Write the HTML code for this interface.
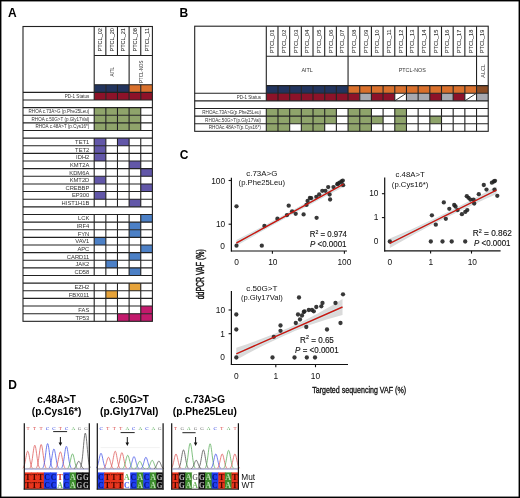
<!DOCTYPE html>
<html><head><meta charset="utf-8"><title>Figure</title>
<style>html,body{margin:0;padding:0;background:#fff;}svg{display:block;font-family:"Liberation Sans",sans-serif;will-change:transform;}</style>
</head><body>
<svg width="520" height="498" viewBox="0 0 520 498">
<rect x="0" y="0" width="520" height="498" fill="#fff"/>
<text x="8" y="17" font-family="Liberation Sans" font-size="12" fill="#000" font-weight="bold">A</text>
<text x="179.6" y="17.1" font-family="Liberation Sans" font-size="12" fill="#000" font-weight="bold">B</text>
<text x="179.8" y="158.6" font-family="Liberation Sans" font-size="12" fill="#000" font-weight="bold">C</text>
<text x="8.2" y="389.3" font-family="Liberation Sans" font-size="12" fill="#000" font-weight="bold">D</text>
<rect x="94.2" y="84.7" width="11.64" height="7.63" fill="#22345e"/>
<rect x="105.84" y="84.7" width="11.64" height="7.63" fill="#22345e"/>
<rect x="117.48" y="84.7" width="11.64" height="7.63" fill="#22345e"/>
<rect x="129.12" y="84.7" width="11.64" height="7.63" fill="#d9702c"/>
<rect x="140.76" y="84.7" width="11.64" height="7.63" fill="#d9702c"/>
<rect x="94.2" y="92.33" width="11.64" height="7.63" fill="#8d1229"/>
<rect x="105.84" y="92.33" width="11.64" height="7.63" fill="#8d1229"/>
<rect x="117.48" y="92.33" width="11.64" height="7.63" fill="#8d1229"/>
<rect x="129.12" y="92.33" width="11.64" height="7.63" fill="#8d1229"/>
<rect x="140.76" y="92.33" width="11.64" height="7.63" fill="#8d1229"/>
<rect x="94.2" y="107.6" width="11.64" height="7.63" fill="#8fa46b"/>
<rect x="105.84" y="107.6" width="11.64" height="7.63" fill="#8fa46b"/>
<rect x="117.48" y="107.6" width="11.64" height="7.63" fill="#8fa46b"/>
<rect x="129.12" y="107.6" width="11.64" height="7.63" fill="#8fa46b"/>
<rect x="94.2" y="115.23" width="11.64" height="7.63" fill="#8fa46b"/>
<rect x="105.84" y="115.23" width="11.64" height="7.63" fill="#8fa46b"/>
<rect x="117.48" y="115.23" width="11.64" height="7.63" fill="#8fa46b"/>
<rect x="129.12" y="115.23" width="11.64" height="7.63" fill="#8fa46b"/>
<rect x="94.2" y="122.87" width="11.64" height="7.63" fill="#8fa46b"/>
<rect x="105.84" y="122.87" width="11.64" height="7.63" fill="#8fa46b"/>
<rect x="117.48" y="122.87" width="11.64" height="7.63" fill="#8fa46b"/>
<rect x="129.12" y="122.87" width="11.64" height="7.63" fill="#8fa46b"/>
<rect x="94.2" y="138.13" width="11.64" height="7.63" fill="#6257a8"/>
<rect x="117.48" y="138.13" width="11.64" height="7.63" fill="#6257a8"/>
<rect x="94.2" y="145.76" width="11.64" height="7.63" fill="#6257a8"/>
<rect x="94.2" y="153.4" width="11.64" height="7.63" fill="#6257a8"/>
<rect x="129.12" y="161.03" width="11.64" height="7.63" fill="#6257a8"/>
<rect x="140.76" y="168.66" width="11.64" height="7.63" fill="#6257a8"/>
<rect x="94.2" y="176.3" width="11.64" height="7.63" fill="#6257a8"/>
<rect x="140.76" y="183.93" width="11.64" height="7.63" fill="#6257a8"/>
<rect x="94.2" y="191.56" width="11.64" height="7.63" fill="#6257a8"/>
<rect x="129.12" y="199.19" width="11.64" height="7.63" fill="#6257a8"/>
<rect x="140.76" y="214.46" width="11.64" height="7.63" fill="#4c80c6"/>
<rect x="129.12" y="222.09" width="11.64" height="7.63" fill="#4c80c6"/>
<rect x="129.12" y="229.73" width="11.64" height="7.63" fill="#4c80c6"/>
<rect x="94.2" y="237.36" width="11.64" height="7.63" fill="#4c80c6"/>
<rect x="140.76" y="244.99" width="11.64" height="7.63" fill="#4c80c6"/>
<rect x="129.12" y="252.63" width="11.64" height="7.63" fill="#4c80c6"/>
<rect x="105.84" y="260.26" width="11.64" height="7.63" fill="#4c80c6"/>
<rect x="129.12" y="267.89" width="11.64" height="7.63" fill="#4c80c6"/>
<rect x="129.12" y="283.16" width="11.64" height="7.63" fill="#e6a33a"/>
<rect x="105.84" y="290.79" width="11.64" height="7.63" fill="#e6a33a"/>
<rect x="140.76" y="306.06" width="11.64" height="7.63" fill="#c31a6d"/>
<rect x="117.48" y="313.69" width="11.64" height="7.63" fill="#c31a6d"/>
<rect x="129.12" y="313.69" width="11.64" height="7.63" fill="#c31a6d"/>
<rect x="140.76" y="313.69" width="11.64" height="7.63" fill="#c31a6d"/>
<rect x="23" y="26.5" width="129.4" height="294.82" fill="none" stroke="#222" stroke-width="1.1"/>
<line x1="94.2" y1="26.5" x2="94.2" y2="92.33" stroke="#222" stroke-width="1.1"/>
<line x1="105.84" y1="26.5" x2="105.84" y2="55.5" stroke="#222" stroke-width="1.1"/>
<line x1="117.48" y1="26.5" x2="117.48" y2="55.5" stroke="#222" stroke-width="1.1"/>
<line x1="129.12" y1="26.5" x2="129.12" y2="55.5" stroke="#222" stroke-width="1.1"/>
<line x1="140.76" y1="26.5" x2="140.76" y2="55.5" stroke="#222" stroke-width="1.1"/>
<line x1="94.2" y1="55.5" x2="152.4" y2="55.5" stroke="#222" stroke-width="1.1"/>
<line x1="129.12" y1="55.5" x2="129.12" y2="84.7" stroke="#222" stroke-width="1.1"/>
<line x1="94.2" y1="84.7" x2="152.4" y2="84.7" stroke="#222" stroke-width="1.1"/>
<line x1="105.84" y1="84.7" x2="105.84" y2="92.33" stroke="#222" stroke-width="1.1"/>
<line x1="117.48" y1="84.7" x2="117.48" y2="92.33" stroke="#222" stroke-width="1.1"/>
<line x1="129.12" y1="84.7" x2="129.12" y2="92.33" stroke="#222" stroke-width="1.1"/>
<line x1="140.76" y1="84.7" x2="140.76" y2="92.33" stroke="#222" stroke-width="1.1"/>
<line x1="23" y1="92.33" x2="152.4" y2="92.33" stroke="#222" stroke-width="1.1"/>
<line x1="105.84" y1="92.33" x2="105.84" y2="99.97" stroke="#222" stroke-width="1.1"/>
<line x1="117.48" y1="92.33" x2="117.48" y2="99.97" stroke="#222" stroke-width="1.1"/>
<line x1="129.12" y1="92.33" x2="129.12" y2="99.97" stroke="#222" stroke-width="1.1"/>
<line x1="140.76" y1="92.33" x2="140.76" y2="99.97" stroke="#222" stroke-width="1.1"/>
<line x1="94.2" y1="92.33" x2="94.2" y2="99.97" stroke="#222" stroke-width="1.1"/>
<line x1="23" y1="99.97" x2="152.4" y2="99.97" stroke="#222" stroke-width="1.1"/>
<line x1="23" y1="107.6" x2="152.4" y2="107.6" stroke="#222" stroke-width="1.1"/>
<line x1="105.84" y1="107.6" x2="105.84" y2="115.23" stroke="#222" stroke-width="1.1"/>
<line x1="117.48" y1="107.6" x2="117.48" y2="115.23" stroke="#222" stroke-width="1.1"/>
<line x1="129.12" y1="107.6" x2="129.12" y2="115.23" stroke="#222" stroke-width="1.1"/>
<line x1="140.76" y1="107.6" x2="140.76" y2="115.23" stroke="#222" stroke-width="1.1"/>
<line x1="94.2" y1="107.6" x2="94.2" y2="115.23" stroke="#222" stroke-width="1.1"/>
<line x1="23" y1="115.23" x2="152.4" y2="115.23" stroke="#222" stroke-width="1.1"/>
<line x1="105.84" y1="115.23" x2="105.84" y2="122.86" stroke="#222" stroke-width="1.1"/>
<line x1="117.48" y1="115.23" x2="117.48" y2="122.86" stroke="#222" stroke-width="1.1"/>
<line x1="129.12" y1="115.23" x2="129.12" y2="122.86" stroke="#222" stroke-width="1.1"/>
<line x1="140.76" y1="115.23" x2="140.76" y2="122.86" stroke="#222" stroke-width="1.1"/>
<line x1="94.2" y1="115.23" x2="94.2" y2="122.86" stroke="#222" stroke-width="1.1"/>
<line x1="23" y1="122.86" x2="152.4" y2="122.86" stroke="#222" stroke-width="1.1"/>
<line x1="105.84" y1="122.87" x2="105.84" y2="130.5" stroke="#222" stroke-width="1.1"/>
<line x1="117.48" y1="122.87" x2="117.48" y2="130.5" stroke="#222" stroke-width="1.1"/>
<line x1="129.12" y1="122.87" x2="129.12" y2="130.5" stroke="#222" stroke-width="1.1"/>
<line x1="140.76" y1="122.87" x2="140.76" y2="130.5" stroke="#222" stroke-width="1.1"/>
<line x1="94.2" y1="122.87" x2="94.2" y2="130.5" stroke="#222" stroke-width="1.1"/>
<line x1="23" y1="130.5" x2="152.4" y2="130.5" stroke="#222" stroke-width="1.1"/>
<line x1="23" y1="138.13" x2="152.4" y2="138.13" stroke="#222" stroke-width="1.1"/>
<line x1="105.84" y1="138.13" x2="105.84" y2="145.76" stroke="#222" stroke-width="1.1"/>
<line x1="117.48" y1="138.13" x2="117.48" y2="145.76" stroke="#222" stroke-width="1.1"/>
<line x1="129.12" y1="138.13" x2="129.12" y2="145.76" stroke="#222" stroke-width="1.1"/>
<line x1="140.76" y1="138.13" x2="140.76" y2="145.76" stroke="#222" stroke-width="1.1"/>
<line x1="94.2" y1="138.13" x2="94.2" y2="145.76" stroke="#222" stroke-width="1.1"/>
<line x1="23" y1="145.76" x2="152.4" y2="145.76" stroke="#222" stroke-width="1.1"/>
<line x1="105.84" y1="145.76" x2="105.84" y2="153.4" stroke="#222" stroke-width="1.1"/>
<line x1="117.48" y1="145.76" x2="117.48" y2="153.4" stroke="#222" stroke-width="1.1"/>
<line x1="129.12" y1="145.76" x2="129.12" y2="153.4" stroke="#222" stroke-width="1.1"/>
<line x1="140.76" y1="145.76" x2="140.76" y2="153.4" stroke="#222" stroke-width="1.1"/>
<line x1="94.2" y1="145.76" x2="94.2" y2="153.4" stroke="#222" stroke-width="1.1"/>
<line x1="23" y1="153.4" x2="152.4" y2="153.4" stroke="#222" stroke-width="1.1"/>
<line x1="105.84" y1="153.4" x2="105.84" y2="161.03" stroke="#222" stroke-width="1.1"/>
<line x1="117.48" y1="153.4" x2="117.48" y2="161.03" stroke="#222" stroke-width="1.1"/>
<line x1="129.12" y1="153.4" x2="129.12" y2="161.03" stroke="#222" stroke-width="1.1"/>
<line x1="140.76" y1="153.4" x2="140.76" y2="161.03" stroke="#222" stroke-width="1.1"/>
<line x1="94.2" y1="153.4" x2="94.2" y2="161.03" stroke="#222" stroke-width="1.1"/>
<line x1="23" y1="161.03" x2="152.4" y2="161.03" stroke="#222" stroke-width="1.1"/>
<line x1="105.84" y1="161.03" x2="105.84" y2="168.66" stroke="#222" stroke-width="1.1"/>
<line x1="117.48" y1="161.03" x2="117.48" y2="168.66" stroke="#222" stroke-width="1.1"/>
<line x1="129.12" y1="161.03" x2="129.12" y2="168.66" stroke="#222" stroke-width="1.1"/>
<line x1="140.76" y1="161.03" x2="140.76" y2="168.66" stroke="#222" stroke-width="1.1"/>
<line x1="94.2" y1="161.03" x2="94.2" y2="168.66" stroke="#222" stroke-width="1.1"/>
<line x1="23" y1="168.66" x2="152.4" y2="168.66" stroke="#222" stroke-width="1.1"/>
<line x1="105.84" y1="168.66" x2="105.84" y2="176.3" stroke="#222" stroke-width="1.1"/>
<line x1="117.48" y1="168.66" x2="117.48" y2="176.3" stroke="#222" stroke-width="1.1"/>
<line x1="129.12" y1="168.66" x2="129.12" y2="176.3" stroke="#222" stroke-width="1.1"/>
<line x1="140.76" y1="168.66" x2="140.76" y2="176.3" stroke="#222" stroke-width="1.1"/>
<line x1="94.2" y1="168.66" x2="94.2" y2="176.3" stroke="#222" stroke-width="1.1"/>
<line x1="23" y1="176.3" x2="152.4" y2="176.3" stroke="#222" stroke-width="1.1"/>
<line x1="105.84" y1="176.3" x2="105.84" y2="183.93" stroke="#222" stroke-width="1.1"/>
<line x1="117.48" y1="176.3" x2="117.48" y2="183.93" stroke="#222" stroke-width="1.1"/>
<line x1="129.12" y1="176.3" x2="129.12" y2="183.93" stroke="#222" stroke-width="1.1"/>
<line x1="140.76" y1="176.3" x2="140.76" y2="183.93" stroke="#222" stroke-width="1.1"/>
<line x1="94.2" y1="176.3" x2="94.2" y2="183.93" stroke="#222" stroke-width="1.1"/>
<line x1="23" y1="183.93" x2="152.4" y2="183.93" stroke="#222" stroke-width="1.1"/>
<line x1="105.84" y1="183.93" x2="105.84" y2="191.56" stroke="#222" stroke-width="1.1"/>
<line x1="117.48" y1="183.93" x2="117.48" y2="191.56" stroke="#222" stroke-width="1.1"/>
<line x1="129.12" y1="183.93" x2="129.12" y2="191.56" stroke="#222" stroke-width="1.1"/>
<line x1="140.76" y1="183.93" x2="140.76" y2="191.56" stroke="#222" stroke-width="1.1"/>
<line x1="94.2" y1="183.93" x2="94.2" y2="191.56" stroke="#222" stroke-width="1.1"/>
<line x1="23" y1="191.56" x2="152.4" y2="191.56" stroke="#222" stroke-width="1.1"/>
<line x1="105.84" y1="191.56" x2="105.84" y2="199.2" stroke="#222" stroke-width="1.1"/>
<line x1="117.48" y1="191.56" x2="117.48" y2="199.2" stroke="#222" stroke-width="1.1"/>
<line x1="129.12" y1="191.56" x2="129.12" y2="199.2" stroke="#222" stroke-width="1.1"/>
<line x1="140.76" y1="191.56" x2="140.76" y2="199.2" stroke="#222" stroke-width="1.1"/>
<line x1="94.2" y1="191.56" x2="94.2" y2="199.2" stroke="#222" stroke-width="1.1"/>
<line x1="23" y1="199.2" x2="152.4" y2="199.2" stroke="#222" stroke-width="1.1"/>
<line x1="105.84" y1="199.19" x2="105.84" y2="206.83" stroke="#222" stroke-width="1.1"/>
<line x1="117.48" y1="199.19" x2="117.48" y2="206.83" stroke="#222" stroke-width="1.1"/>
<line x1="129.12" y1="199.19" x2="129.12" y2="206.83" stroke="#222" stroke-width="1.1"/>
<line x1="140.76" y1="199.19" x2="140.76" y2="206.83" stroke="#222" stroke-width="1.1"/>
<line x1="94.2" y1="199.19" x2="94.2" y2="206.83" stroke="#222" stroke-width="1.1"/>
<line x1="23" y1="206.83" x2="152.4" y2="206.83" stroke="#222" stroke-width="1.1"/>
<line x1="23" y1="214.46" x2="152.4" y2="214.46" stroke="#222" stroke-width="1.1"/>
<line x1="105.84" y1="214.46" x2="105.84" y2="222.09" stroke="#222" stroke-width="1.1"/>
<line x1="117.48" y1="214.46" x2="117.48" y2="222.09" stroke="#222" stroke-width="1.1"/>
<line x1="129.12" y1="214.46" x2="129.12" y2="222.09" stroke="#222" stroke-width="1.1"/>
<line x1="140.76" y1="214.46" x2="140.76" y2="222.09" stroke="#222" stroke-width="1.1"/>
<line x1="94.2" y1="214.46" x2="94.2" y2="222.09" stroke="#222" stroke-width="1.1"/>
<line x1="23" y1="222.09" x2="152.4" y2="222.09" stroke="#222" stroke-width="1.1"/>
<line x1="105.84" y1="222.09" x2="105.84" y2="229.73" stroke="#222" stroke-width="1.1"/>
<line x1="117.48" y1="222.09" x2="117.48" y2="229.73" stroke="#222" stroke-width="1.1"/>
<line x1="129.12" y1="222.09" x2="129.12" y2="229.73" stroke="#222" stroke-width="1.1"/>
<line x1="140.76" y1="222.09" x2="140.76" y2="229.73" stroke="#222" stroke-width="1.1"/>
<line x1="94.2" y1="222.09" x2="94.2" y2="229.73" stroke="#222" stroke-width="1.1"/>
<line x1="23" y1="229.73" x2="152.4" y2="229.73" stroke="#222" stroke-width="1.1"/>
<line x1="105.84" y1="229.73" x2="105.84" y2="237.36" stroke="#222" stroke-width="1.1"/>
<line x1="117.48" y1="229.73" x2="117.48" y2="237.36" stroke="#222" stroke-width="1.1"/>
<line x1="129.12" y1="229.73" x2="129.12" y2="237.36" stroke="#222" stroke-width="1.1"/>
<line x1="140.76" y1="229.73" x2="140.76" y2="237.36" stroke="#222" stroke-width="1.1"/>
<line x1="94.2" y1="229.73" x2="94.2" y2="237.36" stroke="#222" stroke-width="1.1"/>
<line x1="23" y1="237.36" x2="152.4" y2="237.36" stroke="#222" stroke-width="1.1"/>
<line x1="105.84" y1="237.36" x2="105.84" y2="244.99" stroke="#222" stroke-width="1.1"/>
<line x1="117.48" y1="237.36" x2="117.48" y2="244.99" stroke="#222" stroke-width="1.1"/>
<line x1="129.12" y1="237.36" x2="129.12" y2="244.99" stroke="#222" stroke-width="1.1"/>
<line x1="140.76" y1="237.36" x2="140.76" y2="244.99" stroke="#222" stroke-width="1.1"/>
<line x1="94.2" y1="237.36" x2="94.2" y2="244.99" stroke="#222" stroke-width="1.1"/>
<line x1="23" y1="244.99" x2="152.4" y2="244.99" stroke="#222" stroke-width="1.1"/>
<line x1="105.84" y1="244.99" x2="105.84" y2="252.63" stroke="#222" stroke-width="1.1"/>
<line x1="117.48" y1="244.99" x2="117.48" y2="252.63" stroke="#222" stroke-width="1.1"/>
<line x1="129.12" y1="244.99" x2="129.12" y2="252.63" stroke="#222" stroke-width="1.1"/>
<line x1="140.76" y1="244.99" x2="140.76" y2="252.63" stroke="#222" stroke-width="1.1"/>
<line x1="94.2" y1="244.99" x2="94.2" y2="252.63" stroke="#222" stroke-width="1.1"/>
<line x1="23" y1="252.63" x2="152.4" y2="252.63" stroke="#222" stroke-width="1.1"/>
<line x1="105.84" y1="252.63" x2="105.84" y2="260.26" stroke="#222" stroke-width="1.1"/>
<line x1="117.48" y1="252.63" x2="117.48" y2="260.26" stroke="#222" stroke-width="1.1"/>
<line x1="129.12" y1="252.63" x2="129.12" y2="260.26" stroke="#222" stroke-width="1.1"/>
<line x1="140.76" y1="252.63" x2="140.76" y2="260.26" stroke="#222" stroke-width="1.1"/>
<line x1="94.2" y1="252.63" x2="94.2" y2="260.26" stroke="#222" stroke-width="1.1"/>
<line x1="23" y1="260.26" x2="152.4" y2="260.26" stroke="#222" stroke-width="1.1"/>
<line x1="105.84" y1="260.26" x2="105.84" y2="267.89" stroke="#222" stroke-width="1.1"/>
<line x1="117.48" y1="260.26" x2="117.48" y2="267.89" stroke="#222" stroke-width="1.1"/>
<line x1="129.12" y1="260.26" x2="129.12" y2="267.89" stroke="#222" stroke-width="1.1"/>
<line x1="140.76" y1="260.26" x2="140.76" y2="267.89" stroke="#222" stroke-width="1.1"/>
<line x1="94.2" y1="260.26" x2="94.2" y2="267.89" stroke="#222" stroke-width="1.1"/>
<line x1="23" y1="267.89" x2="152.4" y2="267.89" stroke="#222" stroke-width="1.1"/>
<line x1="105.84" y1="267.89" x2="105.84" y2="275.52" stroke="#222" stroke-width="1.1"/>
<line x1="117.48" y1="267.89" x2="117.48" y2="275.52" stroke="#222" stroke-width="1.1"/>
<line x1="129.12" y1="267.89" x2="129.12" y2="275.52" stroke="#222" stroke-width="1.1"/>
<line x1="140.76" y1="267.89" x2="140.76" y2="275.52" stroke="#222" stroke-width="1.1"/>
<line x1="94.2" y1="267.89" x2="94.2" y2="275.52" stroke="#222" stroke-width="1.1"/>
<line x1="23" y1="275.52" x2="152.4" y2="275.52" stroke="#222" stroke-width="1.1"/>
<line x1="23" y1="283.16" x2="152.4" y2="283.16" stroke="#222" stroke-width="1.1"/>
<line x1="105.84" y1="283.16" x2="105.84" y2="290.79" stroke="#222" stroke-width="1.1"/>
<line x1="117.48" y1="283.16" x2="117.48" y2="290.79" stroke="#222" stroke-width="1.1"/>
<line x1="129.12" y1="283.16" x2="129.12" y2="290.79" stroke="#222" stroke-width="1.1"/>
<line x1="140.76" y1="283.16" x2="140.76" y2="290.79" stroke="#222" stroke-width="1.1"/>
<line x1="94.2" y1="283.16" x2="94.2" y2="290.79" stroke="#222" stroke-width="1.1"/>
<line x1="23" y1="290.79" x2="152.4" y2="290.79" stroke="#222" stroke-width="1.1"/>
<line x1="105.84" y1="290.79" x2="105.84" y2="298.42" stroke="#222" stroke-width="1.1"/>
<line x1="117.48" y1="290.79" x2="117.48" y2="298.42" stroke="#222" stroke-width="1.1"/>
<line x1="129.12" y1="290.79" x2="129.12" y2="298.42" stroke="#222" stroke-width="1.1"/>
<line x1="140.76" y1="290.79" x2="140.76" y2="298.42" stroke="#222" stroke-width="1.1"/>
<line x1="94.2" y1="290.79" x2="94.2" y2="298.42" stroke="#222" stroke-width="1.1"/>
<line x1="23" y1="298.42" x2="152.4" y2="298.42" stroke="#222" stroke-width="1.1"/>
<line x1="105.84" y1="298.42" x2="105.84" y2="306.06" stroke="#222" stroke-width="1.1"/>
<line x1="117.48" y1="298.42" x2="117.48" y2="306.06" stroke="#222" stroke-width="1.1"/>
<line x1="129.12" y1="298.42" x2="129.12" y2="306.06" stroke="#222" stroke-width="1.1"/>
<line x1="140.76" y1="298.42" x2="140.76" y2="306.06" stroke="#222" stroke-width="1.1"/>
<line x1="94.2" y1="298.42" x2="94.2" y2="306.06" stroke="#222" stroke-width="1.1"/>
<line x1="23" y1="306.06" x2="152.4" y2="306.06" stroke="#222" stroke-width="1.1"/>
<line x1="105.84" y1="306.06" x2="105.84" y2="313.69" stroke="#222" stroke-width="1.1"/>
<line x1="117.48" y1="306.06" x2="117.48" y2="313.69" stroke="#222" stroke-width="1.1"/>
<line x1="129.12" y1="306.06" x2="129.12" y2="313.69" stroke="#222" stroke-width="1.1"/>
<line x1="140.76" y1="306.06" x2="140.76" y2="313.69" stroke="#222" stroke-width="1.1"/>
<line x1="94.2" y1="306.06" x2="94.2" y2="313.69" stroke="#222" stroke-width="1.1"/>
<line x1="23" y1="313.69" x2="152.4" y2="313.69" stroke="#222" stroke-width="1.1"/>
<line x1="105.84" y1="313.69" x2="105.84" y2="321.32" stroke="#222" stroke-width="1.1"/>
<line x1="117.48" y1="313.69" x2="117.48" y2="321.32" stroke="#222" stroke-width="1.1"/>
<line x1="129.12" y1="313.69" x2="129.12" y2="321.32" stroke="#222" stroke-width="1.1"/>
<line x1="140.76" y1="313.69" x2="140.76" y2="321.32" stroke="#222" stroke-width="1.1"/>
<line x1="94.2" y1="313.69" x2="94.2" y2="321.32" stroke="#222" stroke-width="1.1"/>
<text transform="translate(102.04,39.8) rotate(-90)" font-family="Liberation Sans" font-size="5.6" fill="#333" text-anchor="middle" textLength="23.5" lengthAdjust="spacingAndGlyphs" stroke="#333" stroke-width="0.08">PTCL_02</text>
<text transform="translate(113.68,39.8) rotate(-90)" font-family="Liberation Sans" font-size="5.6" fill="#333" text-anchor="middle" textLength="23.5" lengthAdjust="spacingAndGlyphs" stroke="#333" stroke-width="0.08">PTCL_20</text>
<text transform="translate(125.32,39.8) rotate(-90)" font-family="Liberation Sans" font-size="5.6" fill="#333" text-anchor="middle" textLength="23.5" lengthAdjust="spacingAndGlyphs" stroke="#333" stroke-width="0.08">PTCL_21</text>
<text transform="translate(136.96,39.8) rotate(-90)" font-family="Liberation Sans" font-size="5.6" fill="#333" text-anchor="middle" textLength="23.5" lengthAdjust="spacingAndGlyphs" stroke="#333" stroke-width="0.08">PTCL_08</text>
<text transform="translate(148.6,39.8) rotate(-90)" font-family="Liberation Sans" font-size="5.6" fill="#333" text-anchor="middle" textLength="23.5" lengthAdjust="spacingAndGlyphs" stroke="#333" stroke-width="0.08">PTCL_11</text>
<text transform="translate(113.76,71.7) rotate(-90)" font-family="Liberation Sans" font-size="4.45" fill="#333" text-anchor="middle">AITL</text>
<text transform="translate(142.86,71.7) rotate(-90)" font-family="Liberation Sans" font-size="4.45" fill="#333" text-anchor="middle">PTCL-NOS</text>
<text x="89.3" y="97.81" font-family="Liberation Sans" font-size="4.6" fill="#333" text-anchor="end" textLength="24.6" lengthAdjust="spacingAndGlyphs">PD-1 Status</text>
<text x="89.3" y="113.07" font-family="Liberation Sans" font-size="4.6" fill="#333" text-anchor="end" textLength="60.7" lengthAdjust="spacingAndGlyphs">RHOA c.73A&gt;G (p.Phe25Leu)</text>
<text x="89.3" y="120.7" font-family="Liberation Sans" font-size="4.6" fill="#333" text-anchor="end" textLength="57.7" lengthAdjust="spacingAndGlyphs">RHOA c.50G&gt;T (p.Gly17Val)</text>
<text x="89.3" y="128.34" font-family="Liberation Sans" font-size="4.6" fill="#333" text-anchor="end" textLength="53.8" lengthAdjust="spacingAndGlyphs">RHOA c.48A&gt;T (p.Cys16*)</text>
<text x="89.3" y="144.04" font-family="Liberation Sans" font-size="5.8" fill="#333" text-anchor="end">TET1</text>
<text x="89.3" y="151.67" font-family="Liberation Sans" font-size="5.8" fill="#333" text-anchor="end">TET2</text>
<text x="89.3" y="159.3" font-family="Liberation Sans" font-size="5.8" fill="#333" text-anchor="end">IDH2</text>
<text x="89.3" y="166.93" font-family="Liberation Sans" font-size="5.8" fill="#333" text-anchor="end">KMT2A</text>
<text x="89.3" y="174.57" font-family="Liberation Sans" font-size="5.8" fill="#333" text-anchor="end">KDM6A</text>
<text x="89.3" y="182.2" font-family="Liberation Sans" font-size="5.8" fill="#333" text-anchor="end">KMT2D</text>
<text x="89.3" y="189.83" font-family="Liberation Sans" font-size="5.8" fill="#333" text-anchor="end">CREBBP</text>
<text x="89.3" y="197.47" font-family="Liberation Sans" font-size="5.8" fill="#333" text-anchor="end">EP300</text>
<text x="89.3" y="205.1" font-family="Liberation Sans" font-size="5.8" fill="#333" text-anchor="end">HIST1H1B</text>
<text x="89.3" y="220.37" font-family="Liberation Sans" font-size="5.8" fill="#333" text-anchor="end">LCK</text>
<text x="89.3" y="228" font-family="Liberation Sans" font-size="5.8" fill="#333" text-anchor="end">IRF4</text>
<text x="89.3" y="235.63" font-family="Liberation Sans" font-size="5.8" fill="#333" text-anchor="end">FYN</text>
<text x="89.3" y="243.26" font-family="Liberation Sans" font-size="5.8" fill="#333" text-anchor="end">VAV1</text>
<text x="89.3" y="250.9" font-family="Liberation Sans" font-size="5.8" fill="#333" text-anchor="end">APC</text>
<text x="89.3" y="258.53" font-family="Liberation Sans" font-size="5.8" fill="#333" text-anchor="end">CARD11</text>
<text x="89.3" y="266.16" font-family="Liberation Sans" font-size="5.8" fill="#333" text-anchor="end">JAK2</text>
<text x="89.3" y="273.8" font-family="Liberation Sans" font-size="5.8" fill="#333" text-anchor="end">CD58</text>
<text x="89.3" y="289.06" font-family="Liberation Sans" font-size="5.8" fill="#333" text-anchor="end">EZH2</text>
<text x="89.3" y="296.7" font-family="Liberation Sans" font-size="5.8" fill="#333" text-anchor="end">FBX011</text>
<text x="89.3" y="311.96" font-family="Liberation Sans" font-size="5.8" fill="#333" text-anchor="end">FAS</text>
<text x="89.3" y="319.59" font-family="Liberation Sans" font-size="5.8" fill="#333" text-anchor="end">TP53</text>
<rect x="266.3" y="85.6" width="11.68" height="7.62" fill="#22345e"/>
<rect x="277.98" y="85.6" width="11.68" height="7.62" fill="#22345e"/>
<rect x="289.66" y="85.6" width="11.68" height="7.62" fill="#22345e"/>
<rect x="301.34" y="85.6" width="11.68" height="7.62" fill="#22345e"/>
<rect x="313.02" y="85.6" width="11.68" height="7.62" fill="#22345e"/>
<rect x="324.7" y="85.6" width="11.68" height="7.62" fill="#22345e"/>
<rect x="336.38" y="85.6" width="11.68" height="7.62" fill="#22345e"/>
<rect x="348.06" y="85.6" width="11.68" height="7.62" fill="#d9702c"/>
<rect x="359.74" y="85.6" width="11.68" height="7.62" fill="#d9702c"/>
<rect x="371.42" y="85.6" width="11.68" height="7.62" fill="#d9702c"/>
<rect x="383.1" y="85.6" width="11.68" height="7.62" fill="#d9702c"/>
<rect x="394.78" y="85.6" width="11.68" height="7.62" fill="#d9702c"/>
<rect x="406.46" y="85.6" width="11.68" height="7.62" fill="#d9702c"/>
<rect x="418.14" y="85.6" width="11.68" height="7.62" fill="#d9702c"/>
<rect x="429.82" y="85.6" width="11.68" height="7.62" fill="#d9702c"/>
<rect x="441.5" y="85.6" width="11.68" height="7.62" fill="#d9702c"/>
<rect x="453.18" y="85.6" width="11.68" height="7.62" fill="#d9702c"/>
<rect x="464.86" y="85.6" width="11.68" height="7.62" fill="#d9702c"/>
<rect x="476.54" y="85.6" width="11.68" height="7.62" fill="#8a4c25"/>
<rect x="266.3" y="93.22" width="11.68" height="7.62" fill="#8d1229"/>
<rect x="277.98" y="93.22" width="11.68" height="7.62" fill="#8d1229"/>
<rect x="289.66" y="93.22" width="11.68" height="7.62" fill="#8d1229"/>
<rect x="301.34" y="93.22" width="11.68" height="7.62" fill="#8d1229"/>
<rect x="313.02" y="93.22" width="11.68" height="7.62" fill="#8d1229"/>
<rect x="324.7" y="93.22" width="11.68" height="7.62" fill="#8d1229"/>
<rect x="336.38" y="93.22" width="11.68" height="7.62" fill="#8d1229"/>
<rect x="348.06" y="93.22" width="11.68" height="7.62" fill="#8d1229"/>
<rect x="359.74" y="93.22" width="11.68" height="7.62" fill="#a8aab1"/>
<rect x="371.42" y="93.22" width="11.68" height="7.62" fill="#8d1229"/>
<rect x="383.1" y="93.22" width="11.68" height="7.62" fill="#8d1229"/>
<line x1="394.78" y1="100.84" x2="406.46" y2="93.22" stroke="#222" stroke-width="0.9"/>
<rect x="406.46" y="93.22" width="11.68" height="7.62" fill="#a8aab1"/>
<rect x="418.14" y="93.22" width="11.68" height="7.62" fill="#a8aab1"/>
<rect x="429.82" y="93.22" width="11.68" height="7.62" fill="#8d1229"/>
<rect x="441.5" y="93.22" width="11.68" height="7.62" fill="#a8aab1"/>
<rect x="453.18" y="93.22" width="11.68" height="7.62" fill="#8d1229"/>
<line x1="464.86" y1="100.84" x2="476.54" y2="93.22" stroke="#222" stroke-width="0.9"/>
<rect x="476.54" y="93.22" width="11.68" height="7.62" fill="#a8aab1"/>
<rect x="266.3" y="108.46" width="11.68" height="7.62" fill="#8fa46b"/>
<rect x="277.98" y="108.46" width="11.68" height="7.62" fill="#8fa46b"/>
<rect x="289.66" y="108.46" width="11.68" height="7.62" fill="#8fa46b"/>
<rect x="301.34" y="108.46" width="11.68" height="7.62" fill="#8fa46b"/>
<rect x="313.02" y="108.46" width="11.68" height="7.62" fill="#8fa46b"/>
<rect x="324.7" y="108.46" width="11.68" height="7.62" fill="#8fa46b"/>
<rect x="348.06" y="108.46" width="11.68" height="7.62" fill="#8fa46b"/>
<rect x="359.74" y="108.46" width="11.68" height="7.62" fill="#8fa46b"/>
<rect x="394.78" y="108.46" width="11.68" height="7.62" fill="#8fa46b"/>
<rect x="266.3" y="116.08" width="11.68" height="7.62" fill="#8fa46b"/>
<rect x="277.98" y="116.08" width="11.68" height="7.62" fill="#8fa46b"/>
<rect x="289.66" y="116.08" width="11.68" height="7.62" fill="#8fa46b"/>
<rect x="301.34" y="116.08" width="11.68" height="7.62" fill="#8fa46b"/>
<rect x="313.02" y="116.08" width="11.68" height="7.62" fill="#8fa46b"/>
<rect x="324.7" y="116.08" width="11.68" height="7.62" fill="#8fa46b"/>
<rect x="348.06" y="116.08" width="11.68" height="7.62" fill="#8fa46b"/>
<rect x="359.74" y="116.08" width="11.68" height="7.62" fill="#8fa46b"/>
<rect x="371.42" y="116.08" width="11.68" height="7.62" fill="#8fa46b"/>
<rect x="394.78" y="116.08" width="11.68" height="7.62" fill="#8fa46b"/>
<rect x="429.82" y="116.08" width="11.68" height="7.62" fill="#8fa46b"/>
<rect x="266.3" y="123.7" width="11.68" height="7.62" fill="#8fa46b"/>
<rect x="277.98" y="123.7" width="11.68" height="7.62" fill="#8fa46b"/>
<rect x="301.34" y="123.7" width="11.68" height="7.62" fill="#8fa46b"/>
<rect x="313.02" y="123.7" width="11.68" height="7.62" fill="#8fa46b"/>
<rect x="348.06" y="123.7" width="11.68" height="7.62" fill="#8fa46b"/>
<rect x="359.74" y="123.7" width="11.68" height="7.62" fill="#8fa46b"/>
<rect x="394.78" y="123.7" width="11.68" height="7.62" fill="#8fa46b"/>
<rect x="194.7" y="26.2" width="293.52" height="105.12" fill="none" stroke="#222" stroke-width="1.1"/>
<line x1="266.3" y1="26.2" x2="266.3" y2="93.22" stroke="#222" stroke-width="1.1"/>
<line x1="277.98" y1="26.2" x2="277.98" y2="56.3" stroke="#222" stroke-width="1.1"/>
<line x1="289.66" y1="26.2" x2="289.66" y2="56.3" stroke="#222" stroke-width="1.1"/>
<line x1="301.34" y1="26.2" x2="301.34" y2="56.3" stroke="#222" stroke-width="1.1"/>
<line x1="313.02" y1="26.2" x2="313.02" y2="56.3" stroke="#222" stroke-width="1.1"/>
<line x1="324.7" y1="26.2" x2="324.7" y2="56.3" stroke="#222" stroke-width="1.1"/>
<line x1="336.38" y1="26.2" x2="336.38" y2="56.3" stroke="#222" stroke-width="1.1"/>
<line x1="348.06" y1="26.2" x2="348.06" y2="56.3" stroke="#222" stroke-width="1.1"/>
<line x1="359.74" y1="26.2" x2="359.74" y2="56.3" stroke="#222" stroke-width="1.1"/>
<line x1="371.42" y1="26.2" x2="371.42" y2="56.3" stroke="#222" stroke-width="1.1"/>
<line x1="383.1" y1="26.2" x2="383.1" y2="56.3" stroke="#222" stroke-width="1.1"/>
<line x1="394.78" y1="26.2" x2="394.78" y2="56.3" stroke="#222" stroke-width="1.1"/>
<line x1="406.46" y1="26.2" x2="406.46" y2="56.3" stroke="#222" stroke-width="1.1"/>
<line x1="418.14" y1="26.2" x2="418.14" y2="56.3" stroke="#222" stroke-width="1.1"/>
<line x1="429.82" y1="26.2" x2="429.82" y2="56.3" stroke="#222" stroke-width="1.1"/>
<line x1="441.5" y1="26.2" x2="441.5" y2="56.3" stroke="#222" stroke-width="1.1"/>
<line x1="453.18" y1="26.2" x2="453.18" y2="56.3" stroke="#222" stroke-width="1.1"/>
<line x1="464.86" y1="26.2" x2="464.86" y2="56.3" stroke="#222" stroke-width="1.1"/>
<line x1="476.54" y1="26.2" x2="476.54" y2="56.3" stroke="#222" stroke-width="1.1"/>
<line x1="266.3" y1="56.3" x2="488.22" y2="56.3" stroke="#222" stroke-width="1.1"/>
<line x1="348.06" y1="56.3" x2="348.06" y2="85.6" stroke="#222" stroke-width="1.1"/>
<line x1="476.54" y1="56.3" x2="476.54" y2="85.6" stroke="#222" stroke-width="1.1"/>
<line x1="266.3" y1="85.6" x2="488.22" y2="85.6" stroke="#222" stroke-width="1.1"/>
<line x1="277.98" y1="85.6" x2="277.98" y2="93.22" stroke="#222" stroke-width="1.1"/>
<line x1="289.66" y1="85.6" x2="289.66" y2="93.22" stroke="#222" stroke-width="1.1"/>
<line x1="301.34" y1="85.6" x2="301.34" y2="93.22" stroke="#222" stroke-width="1.1"/>
<line x1="313.02" y1="85.6" x2="313.02" y2="93.22" stroke="#222" stroke-width="1.1"/>
<line x1="324.7" y1="85.6" x2="324.7" y2="93.22" stroke="#222" stroke-width="1.1"/>
<line x1="336.38" y1="85.6" x2="336.38" y2="93.22" stroke="#222" stroke-width="1.1"/>
<line x1="348.06" y1="85.6" x2="348.06" y2="93.22" stroke="#222" stroke-width="1.1"/>
<line x1="359.74" y1="85.6" x2="359.74" y2="93.22" stroke="#222" stroke-width="1.1"/>
<line x1="371.42" y1="85.6" x2="371.42" y2="93.22" stroke="#222" stroke-width="1.1"/>
<line x1="383.1" y1="85.6" x2="383.1" y2="93.22" stroke="#222" stroke-width="1.1"/>
<line x1="394.78" y1="85.6" x2="394.78" y2="93.22" stroke="#222" stroke-width="1.1"/>
<line x1="406.46" y1="85.6" x2="406.46" y2="93.22" stroke="#222" stroke-width="1.1"/>
<line x1="418.14" y1="85.6" x2="418.14" y2="93.22" stroke="#222" stroke-width="1.1"/>
<line x1="429.82" y1="85.6" x2="429.82" y2="93.22" stroke="#222" stroke-width="1.1"/>
<line x1="441.5" y1="85.6" x2="441.5" y2="93.22" stroke="#222" stroke-width="1.1"/>
<line x1="453.18" y1="85.6" x2="453.18" y2="93.22" stroke="#222" stroke-width="1.1"/>
<line x1="464.86" y1="85.6" x2="464.86" y2="93.22" stroke="#222" stroke-width="1.1"/>
<line x1="476.54" y1="85.6" x2="476.54" y2="93.22" stroke="#222" stroke-width="1.1"/>
<line x1="194.7" y1="93.22" x2="488.22" y2="93.22" stroke="#222" stroke-width="1.1"/>
<line x1="277.98" y1="93.22" x2="277.98" y2="100.84" stroke="#222" stroke-width="1.1"/>
<line x1="289.66" y1="93.22" x2="289.66" y2="100.84" stroke="#222" stroke-width="1.1"/>
<line x1="301.34" y1="93.22" x2="301.34" y2="100.84" stroke="#222" stroke-width="1.1"/>
<line x1="313.02" y1="93.22" x2="313.02" y2="100.84" stroke="#222" stroke-width="1.1"/>
<line x1="324.7" y1="93.22" x2="324.7" y2="100.84" stroke="#222" stroke-width="1.1"/>
<line x1="336.38" y1="93.22" x2="336.38" y2="100.84" stroke="#222" stroke-width="1.1"/>
<line x1="348.06" y1="93.22" x2="348.06" y2="100.84" stroke="#222" stroke-width="1.1"/>
<line x1="359.74" y1="93.22" x2="359.74" y2="100.84" stroke="#222" stroke-width="1.1"/>
<line x1="371.42" y1="93.22" x2="371.42" y2="100.84" stroke="#222" stroke-width="1.1"/>
<line x1="383.1" y1="93.22" x2="383.1" y2="100.84" stroke="#222" stroke-width="1.1"/>
<line x1="394.78" y1="93.22" x2="394.78" y2="100.84" stroke="#222" stroke-width="1.1"/>
<line x1="406.46" y1="93.22" x2="406.46" y2="100.84" stroke="#222" stroke-width="1.1"/>
<line x1="418.14" y1="93.22" x2="418.14" y2="100.84" stroke="#222" stroke-width="1.1"/>
<line x1="429.82" y1="93.22" x2="429.82" y2="100.84" stroke="#222" stroke-width="1.1"/>
<line x1="441.5" y1="93.22" x2="441.5" y2="100.84" stroke="#222" stroke-width="1.1"/>
<line x1="453.18" y1="93.22" x2="453.18" y2="100.84" stroke="#222" stroke-width="1.1"/>
<line x1="464.86" y1="93.22" x2="464.86" y2="100.84" stroke="#222" stroke-width="1.1"/>
<line x1="476.54" y1="93.22" x2="476.54" y2="100.84" stroke="#222" stroke-width="1.1"/>
<line x1="266.3" y1="93.22" x2="266.3" y2="100.84" stroke="#222" stroke-width="1.1"/>
<line x1="194.7" y1="100.84" x2="488.22" y2="100.84" stroke="#222" stroke-width="1.1"/>
<line x1="194.7" y1="108.46" x2="488.22" y2="108.46" stroke="#222" stroke-width="1.1"/>
<line x1="277.98" y1="108.46" x2="277.98" y2="116.08" stroke="#222" stroke-width="1.1"/>
<line x1="289.66" y1="108.46" x2="289.66" y2="116.08" stroke="#222" stroke-width="1.1"/>
<line x1="301.34" y1="108.46" x2="301.34" y2="116.08" stroke="#222" stroke-width="1.1"/>
<line x1="313.02" y1="108.46" x2="313.02" y2="116.08" stroke="#222" stroke-width="1.1"/>
<line x1="324.7" y1="108.46" x2="324.7" y2="116.08" stroke="#222" stroke-width="1.1"/>
<line x1="336.38" y1="108.46" x2="336.38" y2="116.08" stroke="#222" stroke-width="1.1"/>
<line x1="348.06" y1="108.46" x2="348.06" y2="116.08" stroke="#222" stroke-width="1.1"/>
<line x1="359.74" y1="108.46" x2="359.74" y2="116.08" stroke="#222" stroke-width="1.1"/>
<line x1="371.42" y1="108.46" x2="371.42" y2="116.08" stroke="#222" stroke-width="1.1"/>
<line x1="383.1" y1="108.46" x2="383.1" y2="116.08" stroke="#222" stroke-width="1.1"/>
<line x1="394.78" y1="108.46" x2="394.78" y2="116.08" stroke="#222" stroke-width="1.1"/>
<line x1="406.46" y1="108.46" x2="406.46" y2="116.08" stroke="#222" stroke-width="1.1"/>
<line x1="418.14" y1="108.46" x2="418.14" y2="116.08" stroke="#222" stroke-width="1.1"/>
<line x1="429.82" y1="108.46" x2="429.82" y2="116.08" stroke="#222" stroke-width="1.1"/>
<line x1="441.5" y1="108.46" x2="441.5" y2="116.08" stroke="#222" stroke-width="1.1"/>
<line x1="453.18" y1="108.46" x2="453.18" y2="116.08" stroke="#222" stroke-width="1.1"/>
<line x1="464.86" y1="108.46" x2="464.86" y2="116.08" stroke="#222" stroke-width="1.1"/>
<line x1="476.54" y1="108.46" x2="476.54" y2="116.08" stroke="#222" stroke-width="1.1"/>
<line x1="266.3" y1="108.46" x2="266.3" y2="116.08" stroke="#222" stroke-width="1.1"/>
<line x1="194.7" y1="116.08" x2="488.22" y2="116.08" stroke="#222" stroke-width="1.1"/>
<line x1="277.98" y1="116.08" x2="277.98" y2="123.7" stroke="#222" stroke-width="1.1"/>
<line x1="289.66" y1="116.08" x2="289.66" y2="123.7" stroke="#222" stroke-width="1.1"/>
<line x1="301.34" y1="116.08" x2="301.34" y2="123.7" stroke="#222" stroke-width="1.1"/>
<line x1="313.02" y1="116.08" x2="313.02" y2="123.7" stroke="#222" stroke-width="1.1"/>
<line x1="324.7" y1="116.08" x2="324.7" y2="123.7" stroke="#222" stroke-width="1.1"/>
<line x1="336.38" y1="116.08" x2="336.38" y2="123.7" stroke="#222" stroke-width="1.1"/>
<line x1="348.06" y1="116.08" x2="348.06" y2="123.7" stroke="#222" stroke-width="1.1"/>
<line x1="359.74" y1="116.08" x2="359.74" y2="123.7" stroke="#222" stroke-width="1.1"/>
<line x1="371.42" y1="116.08" x2="371.42" y2="123.7" stroke="#222" stroke-width="1.1"/>
<line x1="383.1" y1="116.08" x2="383.1" y2="123.7" stroke="#222" stroke-width="1.1"/>
<line x1="394.78" y1="116.08" x2="394.78" y2="123.7" stroke="#222" stroke-width="1.1"/>
<line x1="406.46" y1="116.08" x2="406.46" y2="123.7" stroke="#222" stroke-width="1.1"/>
<line x1="418.14" y1="116.08" x2="418.14" y2="123.7" stroke="#222" stroke-width="1.1"/>
<line x1="429.82" y1="116.08" x2="429.82" y2="123.7" stroke="#222" stroke-width="1.1"/>
<line x1="441.5" y1="116.08" x2="441.5" y2="123.7" stroke="#222" stroke-width="1.1"/>
<line x1="453.18" y1="116.08" x2="453.18" y2="123.7" stroke="#222" stroke-width="1.1"/>
<line x1="464.86" y1="116.08" x2="464.86" y2="123.7" stroke="#222" stroke-width="1.1"/>
<line x1="476.54" y1="116.08" x2="476.54" y2="123.7" stroke="#222" stroke-width="1.1"/>
<line x1="266.3" y1="116.08" x2="266.3" y2="123.7" stroke="#222" stroke-width="1.1"/>
<line x1="194.7" y1="123.7" x2="488.22" y2="123.7" stroke="#222" stroke-width="1.1"/>
<line x1="277.98" y1="123.7" x2="277.98" y2="131.32" stroke="#222" stroke-width="1.1"/>
<line x1="289.66" y1="123.7" x2="289.66" y2="131.32" stroke="#222" stroke-width="1.1"/>
<line x1="301.34" y1="123.7" x2="301.34" y2="131.32" stroke="#222" stroke-width="1.1"/>
<line x1="313.02" y1="123.7" x2="313.02" y2="131.32" stroke="#222" stroke-width="1.1"/>
<line x1="324.7" y1="123.7" x2="324.7" y2="131.32" stroke="#222" stroke-width="1.1"/>
<line x1="336.38" y1="123.7" x2="336.38" y2="131.32" stroke="#222" stroke-width="1.1"/>
<line x1="348.06" y1="123.7" x2="348.06" y2="131.32" stroke="#222" stroke-width="1.1"/>
<line x1="359.74" y1="123.7" x2="359.74" y2="131.32" stroke="#222" stroke-width="1.1"/>
<line x1="371.42" y1="123.7" x2="371.42" y2="131.32" stroke="#222" stroke-width="1.1"/>
<line x1="383.1" y1="123.7" x2="383.1" y2="131.32" stroke="#222" stroke-width="1.1"/>
<line x1="394.78" y1="123.7" x2="394.78" y2="131.32" stroke="#222" stroke-width="1.1"/>
<line x1="406.46" y1="123.7" x2="406.46" y2="131.32" stroke="#222" stroke-width="1.1"/>
<line x1="418.14" y1="123.7" x2="418.14" y2="131.32" stroke="#222" stroke-width="1.1"/>
<line x1="429.82" y1="123.7" x2="429.82" y2="131.32" stroke="#222" stroke-width="1.1"/>
<line x1="441.5" y1="123.7" x2="441.5" y2="131.32" stroke="#222" stroke-width="1.1"/>
<line x1="453.18" y1="123.7" x2="453.18" y2="131.32" stroke="#222" stroke-width="1.1"/>
<line x1="464.86" y1="123.7" x2="464.86" y2="131.32" stroke="#222" stroke-width="1.1"/>
<line x1="476.54" y1="123.7" x2="476.54" y2="131.32" stroke="#222" stroke-width="1.1"/>
<line x1="266.3" y1="123.7" x2="266.3" y2="131.32" stroke="#222" stroke-width="1.1"/>
<text transform="translate(274.16,41.45) rotate(-90)" font-family="Liberation Sans" font-size="5.6" fill="#333" text-anchor="middle" textLength="23.5" lengthAdjust="spacingAndGlyphs" stroke="#333" stroke-width="0.08">PTCL_01</text>
<text transform="translate(285.84,41.45) rotate(-90)" font-family="Liberation Sans" font-size="5.6" fill="#333" text-anchor="middle" textLength="23.5" lengthAdjust="spacingAndGlyphs" stroke="#333" stroke-width="0.08">PTCL_02</text>
<text transform="translate(297.52,41.45) rotate(-90)" font-family="Liberation Sans" font-size="5.6" fill="#333" text-anchor="middle" textLength="23.5" lengthAdjust="spacingAndGlyphs" stroke="#333" stroke-width="0.08">PTCL_03</text>
<text transform="translate(309.2,41.45) rotate(-90)" font-family="Liberation Sans" font-size="5.6" fill="#333" text-anchor="middle" textLength="23.5" lengthAdjust="spacingAndGlyphs" stroke="#333" stroke-width="0.08">PTCL_04</text>
<text transform="translate(320.88,41.45) rotate(-90)" font-family="Liberation Sans" font-size="5.6" fill="#333" text-anchor="middle" textLength="23.5" lengthAdjust="spacingAndGlyphs" stroke="#333" stroke-width="0.08">PTCL_05</text>
<text transform="translate(332.56,41.45) rotate(-90)" font-family="Liberation Sans" font-size="5.6" fill="#333" text-anchor="middle" textLength="23.5" lengthAdjust="spacingAndGlyphs" stroke="#333" stroke-width="0.08">PTCL_06</text>
<text transform="translate(344.24,41.45) rotate(-90)" font-family="Liberation Sans" font-size="5.6" fill="#333" text-anchor="middle" textLength="23.5" lengthAdjust="spacingAndGlyphs" stroke="#333" stroke-width="0.08">PTCL_07</text>
<text transform="translate(355.92,41.45) rotate(-90)" font-family="Liberation Sans" font-size="5.6" fill="#333" text-anchor="middle" textLength="23.5" lengthAdjust="spacingAndGlyphs" stroke="#333" stroke-width="0.08">PTCL_08</text>
<text transform="translate(367.6,41.45) rotate(-90)" font-family="Liberation Sans" font-size="5.6" fill="#333" text-anchor="middle" textLength="23.5" lengthAdjust="spacingAndGlyphs" stroke="#333" stroke-width="0.08">PTCL_09</text>
<text transform="translate(379.28,41.45) rotate(-90)" font-family="Liberation Sans" font-size="5.6" fill="#333" text-anchor="middle" textLength="23.5" lengthAdjust="spacingAndGlyphs" stroke="#333" stroke-width="0.08">PTCL_10</text>
<text transform="translate(390.96,41.45) rotate(-90)" font-family="Liberation Sans" font-size="5.6" fill="#333" text-anchor="middle" textLength="23.5" lengthAdjust="spacingAndGlyphs" stroke="#333" stroke-width="0.08">PTCL_11</text>
<text transform="translate(402.64,41.45) rotate(-90)" font-family="Liberation Sans" font-size="5.6" fill="#333" text-anchor="middle" textLength="23.5" lengthAdjust="spacingAndGlyphs" stroke="#333" stroke-width="0.08">PTCL_12</text>
<text transform="translate(414.32,41.45) rotate(-90)" font-family="Liberation Sans" font-size="5.6" fill="#333" text-anchor="middle" textLength="23.5" lengthAdjust="spacingAndGlyphs" stroke="#333" stroke-width="0.08">PTCL_13</text>
<text transform="translate(426,41.45) rotate(-90)" font-family="Liberation Sans" font-size="5.6" fill="#333" text-anchor="middle" textLength="23.5" lengthAdjust="spacingAndGlyphs" stroke="#333" stroke-width="0.08">PTCL_14</text>
<text transform="translate(437.68,41.45) rotate(-90)" font-family="Liberation Sans" font-size="5.6" fill="#333" text-anchor="middle" textLength="23.5" lengthAdjust="spacingAndGlyphs" stroke="#333" stroke-width="0.08">PTCL_15</text>
<text transform="translate(449.36,41.45) rotate(-90)" font-family="Liberation Sans" font-size="5.6" fill="#333" text-anchor="middle" textLength="23.5" lengthAdjust="spacingAndGlyphs" stroke="#333" stroke-width="0.08">PTCL_16</text>
<text transform="translate(461.04,41.45) rotate(-90)" font-family="Liberation Sans" font-size="5.6" fill="#333" text-anchor="middle" textLength="23.5" lengthAdjust="spacingAndGlyphs" stroke="#333" stroke-width="0.08">PTCL_17</text>
<text transform="translate(472.72,41.45) rotate(-90)" font-family="Liberation Sans" font-size="5.6" fill="#333" text-anchor="middle" textLength="23.5" lengthAdjust="spacingAndGlyphs" stroke="#333" stroke-width="0.08">PTCL_18</text>
<text transform="translate(484.4,41.45) rotate(-90)" font-family="Liberation Sans" font-size="5.6" fill="#333" text-anchor="middle" textLength="23.5" lengthAdjust="spacingAndGlyphs" stroke="#333" stroke-width="0.08">PTCL_19</text>
<text x="307.18" y="72.49" font-family="Liberation Sans" font-size="5.4" fill="#333" text-anchor="middle">AITL</text>
<text x="412.3" y="72.49" font-family="Liberation Sans" font-size="5.4" fill="#333" text-anchor="middle">PTCL-NOS</text>
<text transform="translate(485.12,70.95) rotate(-90)" font-family="Liberation Sans" font-size="5.4" fill="#333" text-anchor="middle">ALCL</text>
<text x="261" y="98.65" font-family="Liberation Sans" font-size="4.5" fill="#333" text-anchor="end" textLength="24.2" lengthAdjust="spacingAndGlyphs">PD-1 Status</text>
<text x="261" y="113.89" font-family="Liberation Sans" font-size="4.5" fill="#333" text-anchor="end" textLength="58.7" lengthAdjust="spacingAndGlyphs">RHOAc.73A&gt;G(p.Phe25Leu)</text>
<text x="261" y="121.51" font-family="Liberation Sans" font-size="4.5" fill="#333" text-anchor="end" textLength="55.9" lengthAdjust="spacingAndGlyphs">RHOAc.50G&gt;T(p.Gly17Val)</text>
<text x="261" y="129.13" font-family="Liberation Sans" font-size="4.5" fill="#333" text-anchor="end" textLength="52.2" lengthAdjust="spacingAndGlyphs">RHOAc.48A&gt;T(p.Cys16*)</text>
<path d="M236.4,240 L241.75,237.25 L247.11,234.48 L252.47,231.69 L257.82,228.88 L263.18,226.05 L268.53,223.2 L273.88,220.33 L279.24,217.44 L284.6,214.53 L289.95,211.6 L295.31,208.65 L300.66,205.69 L306.01,202.72 L311.37,199.73 L316.73,196.72 L322.08,193.71 L327.44,190.68 L332.79,187.63 L338.14,184.57 L343.5,181.5 L343.5,186.9 L338.14,189.71 L332.79,192.53 L327.44,195.36 L322.08,198.21 L316.73,201.07 L311.37,203.95 L306.01,206.84 L300.66,209.75 L295.31,212.67 L289.95,215.6 L284.6,218.55 L279.24,221.52 L273.88,224.51 L268.53,227.52 L263.18,230.55 L257.82,233.6 L252.47,236.67 L247.11,239.76 L241.75,242.87 L236.4,246 Z" fill="#dadada"/>
<line x1="236.4" y1="243" x2="343.5" y2="184.2" stroke="#d2eaee" stroke-width="3.4"/>
<line x1="231.4" y1="177.7" x2="231.4" y2="251.5" stroke="#111" stroke-width="1.2"/>
<line x1="230.9" y1="251" x2="347" y2="251" stroke="#111" stroke-width="1.2"/>
<line x1="228.6" y1="180.5" x2="231.4" y2="180.5" stroke="#111" stroke-width="1.1"/>
<line x1="228.6" y1="224.2" x2="231.4" y2="224.2" stroke="#111" stroke-width="1.1"/>
<line x1="272.4" y1="251" x2="272.4" y2="253.7" stroke="#111" stroke-width="1.1"/>
<line x1="344.4" y1="251" x2="344.4" y2="253.7" stroke="#111" stroke-width="1.1"/>
<text x="225.2" y="183.52" font-family="Liberation Sans" font-size="8.4" fill="#111" text-anchor="end" textLength="14" lengthAdjust="spacingAndGlyphs">100</text>
<text x="225.2" y="227.22" font-family="Liberation Sans" font-size="8.4" fill="#111" text-anchor="end" textLength="9.3" lengthAdjust="spacingAndGlyphs">10</text>
<text x="224.8" y="248.62" font-family="Liberation Sans" font-size="8.4" fill="#111" text-anchor="end">0</text>
<text x="236.5" y="265.32" font-family="Liberation Sans" font-size="8.4" fill="#111" text-anchor="middle">0</text>
<text x="272.8" y="265.32" font-family="Liberation Sans" font-size="8.4" fill="#111" text-anchor="middle">10</text>
<text x="344.4" y="265.32" font-family="Liberation Sans" font-size="8.4" fill="#111" text-anchor="middle">100</text>
<text x="261.8" y="175.7" font-family="Liberation Sans" font-size="7.5" fill="#111" text-anchor="middle" textLength="31" lengthAdjust="spacingAndGlyphs">c.73A&gt;G</text>
<text x="261.8" y="185.2" font-family="Liberation Sans" font-size="7.5" fill="#111" text-anchor="middle" textLength="46.4" lengthAdjust="spacingAndGlyphs">(p.Phe25Leu)</text>
<circle cx="236.5" cy="206.3" r="2.15" fill="#222" fill-opacity="0.9"/>
<circle cx="236.5" cy="245.7" r="2.1" fill="#222" fill-opacity="0.9"/>
<circle cx="261.8" cy="245.7" r="2.15" fill="#222" fill-opacity="0.9"/>
<circle cx="264.4" cy="226" r="2.15" fill="#222" fill-opacity="0.9"/>
<circle cx="277.4" cy="218.7" r="2.15" fill="#222" fill-opacity="0.9"/>
<circle cx="287" cy="215.1" r="2.15" fill="#222" fill-opacity="0.9"/>
<circle cx="288.7" cy="205.7" r="2.15" fill="#222" fill-opacity="0.9"/>
<circle cx="292.1" cy="211.3" r="2.15" fill="#222" fill-opacity="0.9"/>
<circle cx="295.7" cy="213.8" r="2.15" fill="#222" fill-opacity="0.9"/>
<circle cx="303.6" cy="214.4" r="2.15" fill="#222" fill-opacity="0.9"/>
<circle cx="306.5" cy="204.9" r="2.15" fill="#222" fill-opacity="0.9"/>
<circle cx="307.6" cy="201" r="2.15" fill="#222" fill-opacity="0.9"/>
<circle cx="309.9" cy="197.9" r="2.15" fill="#222" fill-opacity="0.9"/>
<circle cx="311.2" cy="198.1" r="2.15" fill="#222" fill-opacity="0.9"/>
<circle cx="316.6" cy="217.8" r="2.15" fill="#222" fill-opacity="0.9"/>
<circle cx="316.3" cy="196.8" r="2.15" fill="#222" fill-opacity="0.9"/>
<circle cx="319.2" cy="194.5" r="2.15" fill="#222" fill-opacity="0.9"/>
<circle cx="322.3" cy="190.8" r="2.15" fill="#222" fill-opacity="0.9"/>
<circle cx="325.4" cy="190.8" r="2.15" fill="#222" fill-opacity="0.9"/>
<circle cx="328.2" cy="187.1" r="2.15" fill="#222" fill-opacity="0.9"/>
<circle cx="329.6" cy="194.5" r="2.15" fill="#222" fill-opacity="0.9"/>
<circle cx="330.1" cy="199.5" r="2.15" fill="#222" fill-opacity="0.9"/>
<circle cx="333.5" cy="187.1" r="2.15" fill="#222" fill-opacity="0.9"/>
<circle cx="337.3" cy="184.2" r="2.15" fill="#222" fill-opacity="0.9"/>
<circle cx="338" cy="183.7" r="2.15" fill="#222" fill-opacity="0.9"/>
<circle cx="339.6" cy="182.7" r="2.15" fill="#222" fill-opacity="0.9"/>
<circle cx="341.5" cy="181.5" r="2.15" fill="#222" fill-opacity="0.9"/>
<circle cx="342.8" cy="180.6" r="2.15" fill="#222" fill-opacity="0.9"/>
<circle cx="343.1" cy="185.2" r="2.15" fill="#222" fill-opacity="0.9"/>
<line x1="236.4" y1="243" x2="343.5" y2="184.2" stroke="#c81810" stroke-width="1.45"/>
<text x="309.8" y="237" font-family="Liberation Sans" font-size="8.2" fill="#111" stroke="#111" stroke-width="0.12" textLength="37.2" lengthAdjust="spacingAndGlyphs">R<tspan font-size="5.4" dy="-3.3">2</tspan><tspan dy="3.3"> = 0.974</tspan></text>
<text x="310" y="246.5" font-family="Liberation Sans" font-size="8.2" fill="#111" stroke="#111" stroke-width="0.12" textLength="36.5" lengthAdjust="spacingAndGlyphs"><tspan font-style="italic">P</tspan> &lt;0.0001</text>
<path d="M389.8,238.5 L395.13,236.3 L400.47,234.05 L405.81,231.76 L411.14,229.42 L416.48,227.03 L421.81,224.59 L427.14,222.1 L432.48,219.56 L437.81,216.98 L443.15,214.35 L448.49,211.68 L453.82,208.98 L459.15,206.26 L464.49,203.51 L469.82,200.72 L475.16,197.92 L480.5,195.08 L485.83,192.21 L491.16,189.32 L496.5,186.4 L496.5,194 L491.16,196.39 L485.83,198.81 L480.5,201.25 L475.16,203.72 L469.82,206.22 L464.49,208.75 L459.15,211.31 L453.82,213.9 L448.49,216.51 L443.15,219.15 L437.81,221.83 L432.48,224.56 L427.14,227.33 L421.81,230.15 L416.48,233.03 L411.14,235.94 L405.81,238.91 L400.47,241.93 L395.13,244.99 L389.8,248.1 Z" fill="#dadada"/>
<line x1="389.8" y1="243.3" x2="496.5" y2="190.2" stroke="#d2eaee" stroke-width="3.4"/>
<line x1="384.7" y1="177.6" x2="384.7" y2="251.4" stroke="#111" stroke-width="1.2"/>
<line x1="384.2" y1="250.9" x2="500.6" y2="250.9" stroke="#111" stroke-width="1.2"/>
<line x1="381.9" y1="193.7" x2="384.7" y2="193.7" stroke="#111" stroke-width="1.1"/>
<line x1="381.9" y1="217.6" x2="384.7" y2="217.6" stroke="#111" stroke-width="1.1"/>
<line x1="430.6" y1="250.9" x2="430.6" y2="253.6" stroke="#111" stroke-width="1.1"/>
<line x1="471.5" y1="250.9" x2="471.5" y2="253.6" stroke="#111" stroke-width="1.1"/>
<text x="378.5" y="196.32" font-family="Liberation Sans" font-size="8.4" fill="#111" text-anchor="end">10</text>
<text x="378.3" y="220.22" font-family="Liberation Sans" font-size="8.4" fill="#111" text-anchor="end">1</text>
<text x="378.3" y="244.42" font-family="Liberation Sans" font-size="8.4" fill="#111" text-anchor="end">0</text>
<text x="389.8" y="265.32" font-family="Liberation Sans" font-size="8.4" fill="#111" text-anchor="middle">0</text>
<text x="430.8" y="265.32" font-family="Liberation Sans" font-size="8.4" fill="#111" text-anchor="middle">1</text>
<text x="472.3" y="265.32" font-family="Liberation Sans" font-size="8.4" fill="#111" text-anchor="middle">10</text>
<text x="410.1" y="177.1" font-family="Liberation Sans" font-size="7.5" fill="#111" text-anchor="middle" textLength="29.1" lengthAdjust="spacingAndGlyphs">c.48A&gt;T</text>
<text x="410.1" y="186.6" font-family="Liberation Sans" font-size="7.5" fill="#111" text-anchor="middle" textLength="36.5" lengthAdjust="spacingAndGlyphs">(p.Cys16*)</text>
<circle cx="389.8" cy="241.5" r="2.15" fill="#222" fill-opacity="0.9"/>
<circle cx="430.8" cy="241.5" r="2.15" fill="#222" fill-opacity="0.9"/>
<circle cx="442.5" cy="241.5" r="2.15" fill="#222" fill-opacity="0.9"/>
<circle cx="451.7" cy="241.5" r="2.15" fill="#222" fill-opacity="0.9"/>
<circle cx="465.2" cy="241.5" r="2.15" fill="#222" fill-opacity="0.9"/>
<circle cx="431.9" cy="215.3" r="2.15" fill="#222" fill-opacity="0.9"/>
<circle cx="435.8" cy="224.7" r="2.15" fill="#222" fill-opacity="0.9"/>
<circle cx="443.8" cy="202.4" r="2.15" fill="#222" fill-opacity="0.9"/>
<circle cx="445.8" cy="218.8" r="2.15" fill="#222" fill-opacity="0.9"/>
<circle cx="449.3" cy="208.8" r="2.15" fill="#222" fill-opacity="0.9"/>
<circle cx="454.2" cy="205" r="2.15" fill="#222" fill-opacity="0.9"/>
<circle cx="455.5" cy="206.5" r="2.15" fill="#222" fill-opacity="0.9"/>
<circle cx="457.6" cy="210.1" r="2.15" fill="#222" fill-opacity="0.9"/>
<circle cx="461.9" cy="214.2" r="2.15" fill="#222" fill-opacity="0.9"/>
<circle cx="465.3" cy="211.9" r="2.15" fill="#222" fill-opacity="0.9"/>
<circle cx="467.3" cy="210.1" r="2.15" fill="#222" fill-opacity="0.9"/>
<circle cx="466.8" cy="196.2" r="2.15" fill="#222" fill-opacity="0.9"/>
<circle cx="468.5" cy="197.8" r="2.15" fill="#222" fill-opacity="0.9"/>
<circle cx="470.4" cy="199.6" r="2.15" fill="#222" fill-opacity="0.9"/>
<circle cx="473.5" cy="199.6" r="2.15" fill="#222" fill-opacity="0.9"/>
<circle cx="474.2" cy="203.5" r="2.15" fill="#222" fill-opacity="0.9"/>
<circle cx="478.8" cy="194.2" r="2.15" fill="#222" fill-opacity="0.9"/>
<circle cx="483.8" cy="185" r="2.15" fill="#222" fill-opacity="0.9"/>
<circle cx="486.5" cy="189.6" r="2.15" fill="#222" fill-opacity="0.9"/>
<circle cx="491.9" cy="182.7" r="2.15" fill="#222" fill-opacity="0.9"/>
<circle cx="493.9" cy="181.5" r="2.15" fill="#222" fill-opacity="0.9"/>
<circle cx="495" cy="180.8" r="2.15" fill="#222" fill-opacity="0.9"/>
<circle cx="494.5" cy="189.6" r="2.15" fill="#222" fill-opacity="0.9"/>
<circle cx="497.3" cy="195.8" r="2.15" fill="#222" fill-opacity="0.9"/>
<line x1="389.8" y1="243.3" x2="496.5" y2="190.2" stroke="#c81810" stroke-width="1.45"/>
<text x="472.7" y="236.2" font-family="Liberation Sans" font-size="8.2" fill="#111" stroke="#111" stroke-width="0.12" textLength="39.2" lengthAdjust="spacingAndGlyphs">R<tspan font-size="5.4" dy="-3.3">2</tspan><tspan dy="3.3"> = 0.862</tspan></text>
<text x="474.1" y="245.6" font-family="Liberation Sans" font-size="8.2" fill="#111" stroke="#111" stroke-width="0.12" textLength="36.4" lengthAdjust="spacingAndGlyphs"><tspan font-style="italic">P</tspan> &lt;0.0001</text>
<path d="M236.3,347.8 L241.61,346.03 L246.92,344.2 L252.23,342.31 L257.54,340.36 L262.85,338.35 L268.16,336.28 L273.47,334.15 L278.78,331.96 L284.09,329.71 L289.4,327.4 L294.71,325.01 L300.02,322.52 L305.33,319.93 L310.64,317.24 L315.95,314.45 L321.26,311.56 L326.57,308.57 L331.88,305.48 L337.19,302.29 L342.5,299 L342.5,315 L337.19,316.39 L331.88,317.88 L326.57,319.47 L321.26,321.16 L315.95,322.95 L310.64,324.84 L305.33,326.83 L300.02,328.92 L294.71,331.11 L289.4,333.4 L284.09,335.77 L278.78,338.2 L273.47,340.69 L268.16,343.24 L262.85,345.85 L257.54,348.52 L252.23,351.25 L246.92,354.04 L241.61,356.89 L236.3,359.8 Z" fill="#dadada"/>
<line x1="236.3" y1="353.8" x2="342.5" y2="307" stroke="#d2eaee" stroke-width="3.4"/>
<line x1="231.4" y1="291" x2="231.4" y2="365" stroke="#111" stroke-width="1.2"/>
<line x1="230.9" y1="364.5" x2="348" y2="364.5" stroke="#111" stroke-width="1.2"/>
<line x1="228.6" y1="310" x2="231.4" y2="310" stroke="#111" stroke-width="1.1"/>
<line x1="228.6" y1="333.7" x2="231.4" y2="333.7" stroke="#111" stroke-width="1.1"/>
<line x1="275.8" y1="364.5" x2="275.8" y2="367.2" stroke="#111" stroke-width="1.1"/>
<line x1="315.5" y1="364.5" x2="315.5" y2="367.2" stroke="#111" stroke-width="1.1"/>
<text x="225.2" y="313.02" font-family="Liberation Sans" font-size="8.4" fill="#111" text-anchor="end">10</text>
<text x="225" y="336.72" font-family="Liberation Sans" font-size="8.4" fill="#111" text-anchor="end">1</text>
<text x="225" y="360.42" font-family="Liberation Sans" font-size="8.4" fill="#111" text-anchor="end">0</text>
<text x="236.3" y="378.52" font-family="Liberation Sans" font-size="8.4" fill="#111" text-anchor="middle">0</text>
<text x="275.8" y="378.52" font-family="Liberation Sans" font-size="8.4" fill="#111" text-anchor="middle">1</text>
<text x="315.5" y="378.52" font-family="Liberation Sans" font-size="8.4" fill="#111" text-anchor="middle">10</text>
<text x="261.8" y="290.8" font-family="Liberation Sans" font-size="7.5" fill="#111" text-anchor="middle" textLength="31.2" lengthAdjust="spacingAndGlyphs">c.50G&gt;T</text>
<text x="261.8" y="300.3" font-family="Liberation Sans" font-size="7.5" fill="#111" text-anchor="middle" textLength="41.8" lengthAdjust="spacingAndGlyphs">(p.Gly17Val)</text>
<circle cx="236.3" cy="314.5" r="2.15" fill="#222" fill-opacity="0.9"/>
<circle cx="236.3" cy="329.5" r="2.15" fill="#222" fill-opacity="0.9"/>
<circle cx="236.3" cy="357.5" r="2.15" fill="#222" fill-opacity="0.9"/>
<circle cx="272.5" cy="357.5" r="2.15" fill="#222" fill-opacity="0.9"/>
<circle cx="273.8" cy="336.8" r="2.15" fill="#222" fill-opacity="0.9"/>
<circle cx="280.5" cy="325.5" r="2.15" fill="#222" fill-opacity="0.9"/>
<circle cx="280.5" cy="330.8" r="2.15" fill="#222" fill-opacity="0.9"/>
<circle cx="294.5" cy="357.5" r="2.15" fill="#222" fill-opacity="0.9"/>
<circle cx="295.8" cy="323" r="2.15" fill="#222" fill-opacity="0.9"/>
<circle cx="299" cy="297.5" r="2.15" fill="#222" fill-opacity="0.9"/>
<circle cx="298" cy="314.5" r="2.15" fill="#222" fill-opacity="0.9"/>
<circle cx="300" cy="319.5" r="2.15" fill="#222" fill-opacity="0.9"/>
<circle cx="302" cy="315.5" r="2.15" fill="#222" fill-opacity="0.9"/>
<circle cx="303.8" cy="312" r="2.15" fill="#222" fill-opacity="0.9"/>
<circle cx="304.5" cy="311.3" r="2.15" fill="#222" fill-opacity="0.9"/>
<circle cx="306.3" cy="327" r="2.15" fill="#222" fill-opacity="0.9"/>
<circle cx="306.8" cy="357.5" r="2.15" fill="#222" fill-opacity="0.9"/>
<circle cx="308.8" cy="310" r="2.15" fill="#222" fill-opacity="0.9"/>
<circle cx="312" cy="310" r="2.15" fill="#222" fill-opacity="0.9"/>
<circle cx="313.8" cy="311.3" r="2.15" fill="#222" fill-opacity="0.9"/>
<circle cx="315" cy="357.5" r="2.15" fill="#222" fill-opacity="0.9"/>
<circle cx="316.3" cy="307" r="2.15" fill="#222" fill-opacity="0.9"/>
<circle cx="321.3" cy="306.3" r="2.15" fill="#222" fill-opacity="0.9"/>
<circle cx="322.5" cy="303" r="2.15" fill="#222" fill-opacity="0.9"/>
<circle cx="327" cy="329.5" r="2.15" fill="#222" fill-opacity="0.9"/>
<circle cx="335.5" cy="303" r="2.15" fill="#222" fill-opacity="0.9"/>
<circle cx="340.5" cy="323" r="2.15" fill="#222" fill-opacity="0.9"/>
<circle cx="343" cy="294.3" r="2.15" fill="#222" fill-opacity="0.9"/>
<line x1="236.3" y1="353.8" x2="342.5" y2="307" stroke="#c81810" stroke-width="1.45"/>
<text x="300.1" y="342.5" font-family="Liberation Sans" font-size="8.2" fill="#111" stroke="#111" stroke-width="0.12" textLength="33.8" lengthAdjust="spacingAndGlyphs">R<tspan font-size="5.4" dy="-3.3">2</tspan><tspan dy="3.3"> = 0.65</tspan></text>
<text x="295.1" y="352.8" font-family="Liberation Sans" font-size="8.2" fill="#111" stroke="#111" stroke-width="0.12" textLength="43.6" lengthAdjust="spacingAndGlyphs"><tspan font-style="italic">P</tspan> = &lt;0.0001</text>
<text transform="translate(204.3,274.3) rotate(-90)" font-family="Liberation Sans" font-size="10" fill="#111" text-anchor="middle" textLength="50" lengthAdjust="spacingAndGlyphs" stroke="#111" stroke-width="0.45">ddPCR VAF (%)</text>
<text x="312.2" y="392.5" font-family="Liberation Sans" font-size="9.8" fill="#111" textLength="93.9" lengthAdjust="spacingAndGlyphs" stroke="#111" stroke-width="0.35">Targeted sequencing VAF (%)</text>
<text x="56.6" y="403.2" font-family="Liberation Sans" font-size="10" fill="#000" text-anchor="middle" font-weight="bold">c.48A&gt;T</text>
<text x="56.6" y="415.4" font-family="Liberation Sans" font-size="10" fill="#000" text-anchor="middle" font-weight="bold" textLength="49.6" lengthAdjust="spacingAndGlyphs">(p.Cys16*)</text>
<text x="28.12" y="430.4" font-family="Liberation Serif" font-size="5" fill="#d84040" text-anchor="middle">T</text>
<text x="34.56" y="430.4" font-family="Liberation Serif" font-size="5" fill="#d84040" text-anchor="middle">T</text>
<text x="41" y="430.4" font-family="Liberation Serif" font-size="5" fill="#d84040" text-anchor="middle">T</text>
<text x="47.44" y="430.4" font-family="Liberation Serif" font-size="5" fill="#3040e0" text-anchor="middle">C</text>
<text x="53.88" y="430.4" font-family="Liberation Serif" font-size="5" fill="#3040e0" text-anchor="middle">C</text>
<text x="60.32" y="430.4" font-family="Liberation Serif" font-size="5" fill="#d84040" text-anchor="middle">T</text>
<text x="66.76" y="430.4" font-family="Liberation Serif" font-size="5" fill="#3040e0" text-anchor="middle">C</text>
<text x="73.2" y="430.4" font-family="Liberation Serif" font-size="5" fill="#40a040" text-anchor="middle">A</text>
<text x="79.64" y="430.4" font-family="Liberation Serif" font-size="5" fill="#707070" text-anchor="middle">G</text>
<text x="86.08" y="430.4" font-family="Liberation Serif" font-size="5" fill="#707070" text-anchor="middle">G</text>
<line x1="53.2" y1="431.6" x2="67.1" y2="431.6" stroke="#222" stroke-width="1.0"/>
<line x1="60.4" y1="437" x2="60.4" y2="444" stroke="#111" stroke-width="1.0"/>
<path d="M58.6,442.6 L60.4,446 L62.2,442.6 Z" fill="#111"/>
<line x1="25" y1="469" x2="88.6" y2="469" stroke="#7c84e6" stroke-width="0.8"/>
<path d="M25.1,468.9 L26.4,468.6 L27.7,468.1 L29.0,468.7 L30.3,469.1 L31.6,468.4 L32.9,468.2 L34.2,468.9 L35.5,468.9 L36.8,468.2 L38.1,468.4 L39.4,469.1 L40.7,468.7 L42.0,468.1 L43.3,468.7 L44.6,469.1 L45.9,468.4 L47.2,468.2 L48.5,468.9 L49.8,469.0 L51.1,468.2 L52.4,468.3 L53.7,469.1 L55.0,468.7 L56.3,468.1 L57.6,468.6 L58.9,469.1 L60.2,468.5 L61.5,468.1 L62.8,468.8 L64.1,469.0 L65.4,468.3 L66.7,468.3 L68.0,469.0 L69.3,468.8 L70.6,468.1 L71.9,468.5 L73.2,469.1 L74.5,468.6 L75.8,468.1 L77.1,468.8 L78.4,469.0 L79.7,468.3 L81.0,468.2 L82.3,469.0 L83.6,468.9 L84.9,468.2 L86.2,468.4 L87.5,469.1 L88.8,468.6" fill="none" stroke="#70c070" stroke-width="0.4" opacity="0.45"/>
<path d="M25.1,468.9 L26.4,468.2 L27.7,468.9 L29.0,469.0 L30.3,468.2 L31.6,468.3 L32.9,469.1 L34.2,468.7 L35.5,468.1 L36.8,468.6 L38.1,469.1 L39.4,468.5 L40.7,468.1 L42.0,468.8 L43.3,469.0 L44.6,468.3 L45.9,468.3 L47.2,469.0 L48.5,468.8 L49.8,468.1 L51.1,468.5 L52.4,469.1 L53.7,468.5 L55.0,468.1 L56.3,468.8 L57.6,469.0 L58.9,468.3 L60.2,468.2 L61.5,469.0 L62.8,468.9 L64.1,468.1 L65.4,468.4 L66.7,469.1 L68.0,468.6 L69.3,468.1 L70.6,468.7 L71.9,469.1 L73.2,468.4 L74.5,468.2 L75.8,468.9 L77.1,468.9 L78.4,468.2 L79.7,468.4 L81.0,469.1 L82.3,468.7 L83.6,468.1 L84.9,468.6 L86.2,469.1 L87.5,468.4 L88.8,468.1" fill="none" stroke="#e07070" stroke-width="0.4" opacity="0.45"/>
<path d="M25.1,468.9 L26.4,469.0 L27.7,468.8 L29.0,468.1 L30.3,468.5 L31.6,469.1 L32.9,468.5 L34.2,468.1 L35.5,468.8 L36.8,469.0 L38.1,468.3 L39.4,468.2 L40.7,469.0 L42.0,468.9 L43.3,468.1 L44.6,468.5 L45.9,469.1 L47.2,468.6 L48.5,468.1 L49.8,468.7 L51.1,469.1 L52.4,468.4 L53.7,468.2 L55.0,468.9 L56.3,468.9 L57.6,468.2 L58.9,468.4 L60.2,469.1 L61.5,468.7 L62.8,468.1 L64.1,468.6 L65.4,469.1 L66.7,468.4 L68.0,468.2 L69.3,468.9 L70.6,469.0 L71.9,468.2 L73.2,468.3 L74.5,469.1 L75.8,468.8 L77.1,468.1 L78.4,468.6 L79.7,469.1 L81.0,468.5 L82.3,468.1 L83.6,468.8 L84.9,469.0 L86.2,468.3 L87.5,468.3 L88.8,469.0" fill="none" stroke="#606060" stroke-width="0.4" opacity="0.45"/>
<path d="M22.80,468.26 L23.15,467.89 L23.50,467.36 L23.85,466.63 L24.20,465.66 L24.55,464.42 L24.90,462.92 L25.25,461.19 L25.60,459.29 L25.95,457.32 L26.30,455.41 L26.65,453.71 L27.00,452.36 L27.35,451.50 L27.70,451.20 L28.05,451.50 L28.40,452.36 L28.75,453.71 L29.10,455.41 L29.45,457.32 L29.80,459.29 L30.15,461.19 L30.50,462.92 L30.85,464.42 L31.20,465.66 L31.55,466.63 L31.90,467.36 L32.25,467.89 L32.60,468.26" fill="none" stroke="#e06060" stroke-width="0.8"/>
<path d="M29.90,468.05 L30.25,467.55 L30.60,466.84 L30.95,465.86 L31.30,464.56 L31.65,462.90 L32.00,460.90 L32.35,458.58 L32.70,456.03 L33.05,453.39 L33.40,450.83 L33.75,448.56 L34.10,446.76 L34.45,445.60 L34.80,445.20 L35.15,445.60 L35.50,446.76 L35.85,448.56 L36.20,450.83 L36.55,453.39 L36.90,456.03 L37.25,458.58 L37.60,460.90 L37.95,462.90 L38.30,464.56 L38.65,465.86 L39.00,466.84 L39.35,467.55 L39.70,468.05" fill="none" stroke="#e06060" stroke-width="0.8"/>
<path d="M36.30,468.02 L36.65,467.51 L37.00,466.78 L37.35,465.77 L37.70,464.43 L38.05,462.73 L38.40,460.66 L38.75,458.27 L39.10,455.65 L39.45,452.93 L39.80,450.30 L40.15,447.96 L40.50,446.10 L40.85,444.91 L41.20,444.50 L41.55,444.91 L41.90,446.10 L42.25,447.96 L42.60,450.30 L42.95,452.93 L43.30,455.65 L43.65,458.27 L44.00,460.66 L44.35,462.73 L44.70,464.43 L45.05,465.77 L45.40,466.78 L45.75,467.51 L46.10,468.02" fill="none" stroke="#e06060" stroke-width="0.8"/>
<path d="M42.70,467.99 L43.05,467.46 L43.40,466.70 L43.75,465.65 L44.10,464.26 L44.45,462.50 L44.80,460.36 L45.15,457.88 L45.50,455.16 L45.85,452.35 L46.20,449.61 L46.55,447.18 L46.90,445.26 L47.25,444.03 L47.60,443.60 L47.95,444.03 L48.30,445.26 L48.65,447.18 L49.00,449.61 L49.35,452.35 L49.70,455.16 L50.05,457.88 L50.40,460.36 L50.75,462.50 L51.10,464.26 L51.45,465.65 L51.80,466.70 L52.15,467.46 L52.50,467.99" fill="none" stroke="#4a5ae8" stroke-width="0.8"/>
<path d="M49.00,468.18 L49.35,467.77 L49.70,467.17 L50.05,466.35 L50.40,465.25 L50.75,463.87 L51.10,462.18 L51.45,460.23 L51.80,458.10 L52.15,455.88 L52.50,453.73 L52.85,451.82 L53.20,450.31 L53.55,449.33 L53.90,449.00 L54.25,449.33 L54.60,450.31 L54.95,451.82 L55.30,453.73 L55.65,455.88 L56.00,458.10 L56.35,460.23 L56.70,462.18 L57.05,463.87 L57.40,465.25 L57.75,466.35 L58.10,467.17 L58.45,467.77 L58.80,468.18" fill="none" stroke="#4a5ae8" stroke-width="0.8"/>
<path d="M55.50,468.29 L55.85,467.93 L56.20,467.42 L56.55,466.72 L56.90,465.78 L57.25,464.60 L57.60,463.16 L57.95,461.50 L58.30,459.67 L58.65,457.78 L59.00,455.94 L59.35,454.31 L59.70,453.02 L60.05,452.19 L60.40,451.90 L60.75,452.19 L61.10,453.02 L61.45,454.31 L61.80,455.94 L62.15,457.78 L62.50,459.67 L62.85,461.50 L63.20,463.16 L63.55,464.60 L63.90,465.78 L64.25,466.72 L64.60,467.42 L64.95,467.93 L65.30,468.29" fill="none" stroke="#e06060" stroke-width="0.8"/>
<path d="M61.50,468.09 L61.85,467.62 L62.20,466.94 L62.55,466.00 L62.90,464.76 L63.25,463.18 L63.60,461.27 L63.95,459.06 L64.30,456.63 L64.65,454.11 L65.00,451.67 L65.35,449.50 L65.70,447.78 L66.05,446.68 L66.40,446.30 L66.75,446.68 L67.10,447.78 L67.45,449.50 L67.80,451.67 L68.15,454.11 L68.50,456.63 L68.85,459.06 L69.20,461.27 L69.55,463.18 L69.90,464.76 L70.25,466.00 L70.60,466.94 L70.95,467.62 L71.30,468.09" fill="none" stroke="#4a5ae8" stroke-width="0.8"/>
<path d="M67.60,468.36 L67.95,468.05 L68.30,467.60 L68.65,466.97 L69.00,466.15 L69.35,465.10 L69.70,463.84 L70.05,462.37 L70.40,460.76 L70.75,459.09 L71.10,457.47 L71.45,456.02 L71.80,454.88 L72.15,454.15 L72.50,453.90 L72.85,454.15 L73.20,454.88 L73.55,456.02 L73.90,457.47 L74.25,459.09 L74.60,460.76 L74.95,462.37 L75.30,463.84 L75.65,465.10 L76.00,466.15 L76.35,466.97 L76.70,467.60 L77.05,468.05 L77.40,468.36" fill="none" stroke="#60b060" stroke-width="0.8"/>
<path d="M73.90,468.63 L74.25,468.47 L74.60,468.24 L74.95,467.92 L75.30,467.51 L75.65,466.98 L76.00,466.33 L76.35,465.59 L76.70,464.77 L77.05,463.93 L77.40,463.11 L77.75,462.38 L78.10,461.80 L78.45,461.43 L78.80,461.30 L79.15,461.43 L79.50,461.80 L79.85,462.38 L80.20,463.11 L80.55,463.93 L80.90,464.77 L81.25,465.59 L81.60,466.33 L81.95,466.98 L82.30,467.51 L82.65,467.92 L83.00,468.24 L83.35,468.47 L83.70,468.63" fill="none" stroke="#505050" stroke-width="0.8"/>
<path d="M80.40,467.61 L80.75,466.86 L81.10,465.79 L81.45,464.30 L81.80,462.34 L82.15,459.84 L82.50,456.81 L82.85,453.31 L83.20,449.46 L83.55,445.48 L83.90,441.61 L84.25,438.17 L84.60,435.45 L84.95,433.70 L85.30,433.10 L85.65,433.70 L86.00,435.45 L86.35,438.17 L86.70,441.61 L87.05,445.48 L87.40,449.46 L87.75,453.31 L88.10,456.81 L88.45,459.84 L88.80,462.34 L89.15,464.30 L89.50,465.79 L89.85,466.86 L90.20,467.61" fill="none" stroke="#505050" stroke-width="0.8"/>
<rect x="24.6" y="472.4" width="7.04" height="8.9" fill="#e8341c"/>
<rect x="31.04" y="472.4" width="7.04" height="8.9" fill="#e8341c"/>
<rect x="37.48" y="472.4" width="7.04" height="8.9" fill="#e8341c"/>
<rect x="43.92" y="472.4" width="7.04" height="8.9" fill="#1f3ef0"/>
<rect x="50.36" y="472.4" width="7.04" height="8.9" fill="#1f3ef0"/>
<rect x="56.8" y="472.4" width="7.04" height="8.9" fill="#fff"/>
<rect x="63.24" y="472.4" width="7.04" height="8.9" fill="#1f3ef0"/>
<rect x="69.68" y="472.4" width="7.04" height="8.9" fill="#3c8c2c"/>
<rect x="76.12" y="472.4" width="7.04" height="8.9" fill="#101010"/>
<rect x="82.56" y="472.4" width="6.44" height="8.9" fill="#101010"/>
<rect x="24.6" y="480.7" width="7.04" height="8.2" fill="#e8341c"/>
<rect x="31.04" y="480.7" width="7.04" height="8.2" fill="#e8341c"/>
<rect x="37.48" y="480.7" width="7.04" height="8.2" fill="#e8341c"/>
<rect x="43.92" y="480.7" width="7.04" height="8.2" fill="#1f3ef0"/>
<rect x="50.36" y="480.7" width="7.04" height="8.2" fill="#1f3ef0"/>
<rect x="56.8" y="480.7" width="7.04" height="8.2" fill="#fff"/>
<rect x="63.24" y="480.7" width="7.04" height="8.2" fill="#1f3ef0"/>
<rect x="69.68" y="480.7" width="7.04" height="8.2" fill="#3c8c2c"/>
<rect x="76.12" y="480.7" width="7.04" height="8.2" fill="#101010"/>
<rect x="82.56" y="480.7" width="6.44" height="8.2" fill="#101010"/>
<text x="27.82" y="479.8" font-family="Liberation Serif" font-size="8.3" fill="#4a0800" text-anchor="middle" font-weight="bold" textLength="5.7" lengthAdjust="spacingAndGlyphs">T</text>
<text x="34.26" y="479.8" font-family="Liberation Serif" font-size="8.3" fill="#4a0800" text-anchor="middle" font-weight="bold" textLength="5.7" lengthAdjust="spacingAndGlyphs">T</text>
<text x="40.7" y="479.8" font-family="Liberation Serif" font-size="8.3" fill="#4a0800" text-anchor="middle" font-weight="bold" textLength="5.7" lengthAdjust="spacingAndGlyphs">T</text>
<text x="47.14" y="479.8" font-family="Liberation Serif" font-size="8.3" fill="#0a1478" text-anchor="middle" font-weight="bold" textLength="5.7" lengthAdjust="spacingAndGlyphs">C</text>
<text x="53.58" y="479.8" font-family="Liberation Serif" font-size="8.3" fill="#0a1478" text-anchor="middle" font-weight="bold" textLength="5.7" lengthAdjust="spacingAndGlyphs">C</text>
<text x="60.02" y="479.8" font-family="Liberation Serif" font-size="8.3" fill="#d83020" text-anchor="middle" font-weight="bold" textLength="5.7" lengthAdjust="spacingAndGlyphs">T</text>
<text x="66.46" y="479.8" font-family="Liberation Serif" font-size="8.3" fill="#0a1478" text-anchor="middle" font-weight="bold" textLength="5.7" lengthAdjust="spacingAndGlyphs">C</text>
<text x="72.9" y="479.8" font-family="Liberation Serif" font-size="8.3" fill="#b8dcb0" text-anchor="middle" font-weight="bold" textLength="5.7" lengthAdjust="spacingAndGlyphs">A</text>
<text x="79.34" y="479.8" font-family="Liberation Serif" font-size="8.3" fill="#bcbcbc" text-anchor="middle" font-weight="bold" textLength="5.7" lengthAdjust="spacingAndGlyphs">G</text>
<text x="85.78" y="479.8" font-family="Liberation Serif" font-size="8.3" fill="#bcbcbc" text-anchor="middle" font-weight="bold" textLength="5.7" lengthAdjust="spacingAndGlyphs">G</text>
<text x="27.82" y="488.1" font-family="Liberation Serif" font-size="8.3" fill="#4a0800" text-anchor="middle" font-weight="bold" textLength="5.7" lengthAdjust="spacingAndGlyphs">T</text>
<text x="34.26" y="488.1" font-family="Liberation Serif" font-size="8.3" fill="#4a0800" text-anchor="middle" font-weight="bold" textLength="5.7" lengthAdjust="spacingAndGlyphs">T</text>
<text x="40.7" y="488.1" font-family="Liberation Serif" font-size="8.3" fill="#4a0800" text-anchor="middle" font-weight="bold" textLength="5.7" lengthAdjust="spacingAndGlyphs">T</text>
<text x="47.14" y="488.1" font-family="Liberation Serif" font-size="8.3" fill="#0a1478" text-anchor="middle" font-weight="bold" textLength="5.7" lengthAdjust="spacingAndGlyphs">C</text>
<text x="53.58" y="488.1" font-family="Liberation Serif" font-size="8.3" fill="#0a1478" text-anchor="middle" font-weight="bold" textLength="5.7" lengthAdjust="spacingAndGlyphs">C</text>
<text x="60.02" y="488.1" font-family="Liberation Serif" font-size="8.3" fill="#70b860" text-anchor="middle" font-weight="bold" textLength="5.7" lengthAdjust="spacingAndGlyphs">A</text>
<text x="66.46" y="488.1" font-family="Liberation Serif" font-size="8.3" fill="#0a1478" text-anchor="middle" font-weight="bold" textLength="5.7" lengthAdjust="spacingAndGlyphs">C</text>
<text x="72.9" y="488.1" font-family="Liberation Serif" font-size="8.3" fill="#b8dcb0" text-anchor="middle" font-weight="bold" textLength="5.7" lengthAdjust="spacingAndGlyphs">A</text>
<text x="79.34" y="488.1" font-family="Liberation Serif" font-size="8.3" fill="#bcbcbc" text-anchor="middle" font-weight="bold" textLength="5.7" lengthAdjust="spacingAndGlyphs">G</text>
<text x="85.78" y="488.1" font-family="Liberation Serif" font-size="8.3" fill="#bcbcbc" text-anchor="middle" font-weight="bold" textLength="5.7" lengthAdjust="spacingAndGlyphs">G</text>
<line x1="24.3" y1="423.3" x2="24.3" y2="489.4" stroke="#111" stroke-width="1.2"/>
<line x1="89.3" y1="423.3" x2="89.3" y2="489.4" stroke="#111" stroke-width="1.2"/>
<line x1="23.7" y1="489.2" x2="89.9" y2="489.2" stroke="#111" stroke-width="1.0"/>
<text x="129.3" y="403.2" font-family="Liberation Sans" font-size="10" fill="#000" text-anchor="middle" font-weight="bold">c.50G&gt;T</text>
<text x="129.3" y="415.4" font-family="Liberation Sans" font-size="10" fill="#000" text-anchor="middle" font-weight="bold" textLength="58.4" lengthAdjust="spacingAndGlyphs">(p.Gly17Val)</text>
<text x="101.16" y="430.4" font-family="Liberation Serif" font-size="5" fill="#3040e0" text-anchor="middle">C</text>
<text x="107.68" y="430.4" font-family="Liberation Serif" font-size="5" fill="#d84040" text-anchor="middle">T</text>
<text x="114.2" y="430.4" font-family="Liberation Serif" font-size="5" fill="#d84040" text-anchor="middle">T</text>
<text x="120.72" y="430.4" font-family="Liberation Serif" font-size="5" fill="#d84040" text-anchor="middle">T</text>
<text x="127.24" y="430.4" font-family="Liberation Serif" font-size="5" fill="#40a040" text-anchor="middle">A</text>
<text x="133.76" y="430.4" font-family="Liberation Serif" font-size="5" fill="#3040e0" text-anchor="middle">C</text>
<text x="140.28" y="430.4" font-family="Liberation Serif" font-size="5" fill="#40a040" text-anchor="middle">A</text>
<text x="146.8" y="430.4" font-family="Liberation Serif" font-size="5" fill="#3040e0" text-anchor="middle">C</text>
<text x="153.32" y="430.4" font-family="Liberation Serif" font-size="5" fill="#40a040" text-anchor="middle">A</text>
<text x="159.84" y="430.4" font-family="Liberation Serif" font-size="5" fill="#707070" text-anchor="middle">G</text>
<line x1="120.6" y1="432.6" x2="134.7" y2="432.6" stroke="#222" stroke-width="1.0"/>
<line x1="100.6" y1="447.6" x2="159.8" y2="447.6" stroke="#e4e4e4" stroke-width="0.5"/>
<line x1="127.3" y1="437" x2="127.3" y2="444" stroke="#111" stroke-width="1.0"/>
<path d="M125.5,442.6 L127.3,446 L129.1,442.6 Z" fill="#111"/>
<line x1="98" y1="469" x2="162.4" y2="469" stroke="#7c84e6" stroke-width="0.8"/>
<path d="M98.1,468.9 L99.4,468.6 L100.7,468.1 L102.0,468.7 L103.3,469.1 L104.6,468.4 L105.9,468.2 L107.2,468.9 L108.5,468.9 L109.8,468.2 L111.1,468.4 L112.4,469.1 L113.7,468.7 L115.0,468.1 L116.3,468.7 L117.6,469.1 L118.9,468.4 L120.2,468.2 L121.5,468.9 L122.8,469.0 L124.1,468.2 L125.4,468.3 L126.7,469.1 L128.0,468.7 L129.3,468.1 L130.6,468.6 L131.9,469.1 L133.2,468.5 L134.5,468.1 L135.8,468.8 L137.1,469.0 L138.4,468.3 L139.7,468.3 L141.0,469.0 L142.3,468.8 L143.6,468.1 L144.9,468.5 L146.2,469.1 L147.5,468.6 L148.8,468.1 L150.1,468.8 L151.4,469.0 L152.7,468.3 L154.0,468.2 L155.3,469.0 L156.6,468.9 L157.9,468.2 L159.2,468.4 L160.5,469.1 L161.8,468.6 L163.1,468.1" fill="none" stroke="#70c070" stroke-width="0.4" opacity="0.45"/>
<path d="M98.1,468.9 L99.4,468.2 L100.7,468.9 L102.0,469.0 L103.3,468.2 L104.6,468.3 L105.9,469.1 L107.2,468.7 L108.5,468.1 L109.8,468.6 L111.1,469.1 L112.4,468.5 L113.7,468.1 L115.0,468.8 L116.3,469.0 L117.6,468.3 L118.9,468.3 L120.2,469.0 L121.5,468.8 L122.8,468.1 L124.1,468.5 L125.4,469.1 L126.7,468.5 L128.0,468.1 L129.3,468.8 L130.6,469.0 L131.9,468.3 L133.2,468.2 L134.5,469.0 L135.8,468.9 L137.1,468.1 L138.4,468.4 L139.7,469.1 L141.0,468.6 L142.3,468.1 L143.6,468.7 L144.9,469.1 L146.2,468.4 L147.5,468.2 L148.8,468.9 L150.1,468.9 L151.4,468.2 L152.7,468.4 L154.0,469.1 L155.3,468.7 L156.6,468.1 L157.9,468.6 L159.2,469.1 L160.5,468.4 L161.8,468.1 L163.1,468.9" fill="none" stroke="#e07070" stroke-width="0.4" opacity="0.45"/>
<path d="M98.1,468.9 L99.4,469.0 L100.7,468.8 L102.0,468.1 L103.3,468.5 L104.6,469.1 L105.9,468.5 L107.2,468.1 L108.5,468.8 L109.8,469.0 L111.1,468.3 L112.4,468.2 L113.7,469.0 L115.0,468.9 L116.3,468.1 L117.6,468.5 L118.9,469.1 L120.2,468.6 L121.5,468.1 L122.8,468.7 L124.1,469.1 L125.4,468.4 L126.7,468.2 L128.0,468.9 L129.3,468.9 L130.6,468.2 L131.9,468.4 L133.2,469.1 L134.5,468.7 L135.8,468.1 L137.1,468.6 L138.4,469.1 L139.7,468.4 L141.0,468.2 L142.3,468.9 L143.6,469.0 L144.9,468.2 L146.2,468.3 L147.5,469.1 L148.8,468.8 L150.1,468.1 L151.4,468.6 L152.7,469.1 L154.0,468.5 L155.3,468.1 L156.6,468.8 L157.9,469.0 L159.2,468.3 L160.5,468.3 L161.8,469.0 L163.1,468.8" fill="none" stroke="#606060" stroke-width="0.4" opacity="0.45"/>
<path d="M96.10,468.34 L96.45,468.01 L96.80,467.54 L97.15,466.90 L97.50,466.04 L97.85,464.95 L98.20,463.63 L98.55,462.11 L98.90,460.43 L99.25,458.69 L99.60,457.01 L99.95,455.51 L100.30,454.32 L100.65,453.56 L101.00,453.30 L101.35,453.56 L101.70,454.32 L102.05,455.51 L102.40,457.01 L102.75,458.69 L103.10,460.43 L103.45,462.11 L103.80,463.63 L104.15,464.95 L104.50,466.04 L104.85,466.90 L105.20,467.54 L105.55,468.01 L105.90,468.34" fill="none" stroke="#4a5ae8" stroke-width="0.8"/>
<path d="M103.60,468.48 L103.95,468.24 L104.30,467.89 L104.65,467.41 L105.00,466.77 L105.35,465.97 L105.70,464.98 L106.05,463.85 L106.40,462.60 L106.75,461.31 L107.10,460.06 L107.45,458.94 L107.80,458.06 L108.15,457.50 L108.50,457.30 L108.85,457.50 L109.20,458.06 L109.55,458.94 L109.90,460.06 L110.25,461.31 L110.60,462.60 L110.95,463.85 L111.30,464.98 L111.65,465.97 L112.00,466.77 L112.35,467.41 L112.70,467.89 L113.05,468.24 L113.40,468.48" fill="none" stroke="#e06060" stroke-width="0.8"/>
<path d="M110.30,468.26 L110.65,467.89 L111.00,467.36 L111.35,466.63 L111.70,465.66 L112.05,464.42 L112.40,462.92 L112.75,461.19 L113.10,459.29 L113.45,457.32 L113.80,455.41 L114.15,453.71 L114.50,452.36 L114.85,451.50 L115.20,451.20 L115.55,451.50 L115.90,452.36 L116.25,453.71 L116.60,455.41 L116.95,457.32 L117.30,459.29 L117.65,461.19 L118.00,462.92 L118.35,464.42 L118.70,465.66 L119.05,466.63 L119.40,467.36 L119.75,467.89 L120.10,468.26" fill="none" stroke="#e06060" stroke-width="0.8"/>
<path d="M117.00,468.31 L117.35,467.97 L117.70,467.48 L118.05,466.81 L118.40,465.91 L118.75,464.78 L119.10,463.40 L119.45,461.80 L119.80,460.05 L120.15,458.23 L120.50,456.48 L120.85,454.91 L121.20,453.67 L121.55,452.87 L121.90,452.60 L122.25,452.87 L122.60,453.67 L122.95,454.91 L123.30,456.48 L123.65,458.23 L124.00,460.05 L124.35,461.80 L124.70,463.40 L125.05,464.78 L125.40,465.91 L125.75,466.81 L126.10,467.48 L126.45,467.97 L126.80,468.31" fill="none" stroke="#e06060" stroke-width="0.8"/>
<path d="M122.80,468.41 L123.15,468.13 L123.50,467.72 L123.85,467.15 L124.20,466.41 L124.55,465.46 L124.90,464.31 L125.25,462.98 L125.60,461.52 L125.95,460.00 L126.30,458.53 L126.65,457.23 L127.00,456.19 L127.35,455.53 L127.70,455.30 L128.05,455.53 L128.40,456.19 L128.75,457.23 L129.10,458.53 L129.45,460.00 L129.80,461.52 L130.15,462.98 L130.50,464.31 L130.85,465.46 L131.20,466.41 L131.55,467.15 L131.90,467.72 L132.25,468.13 L132.60,468.41" fill="none" stroke="#60b060" stroke-width="0.8"/>
<path d="M129.10,468.46 L129.45,468.20 L129.80,467.83 L130.15,467.32 L130.50,466.65 L130.85,465.79 L131.20,464.75 L131.55,463.54 L131.90,462.22 L132.25,460.85 L132.60,459.52 L132.95,458.34 L133.30,457.41 L133.65,456.81 L134.00,456.60 L134.35,456.81 L134.70,457.41 L135.05,458.34 L135.40,459.52 L135.75,460.85 L136.10,462.22 L136.45,463.54 L136.80,464.75 L137.15,465.79 L137.50,466.65 L137.85,467.32 L138.20,467.83 L138.55,468.20 L138.90,468.46" fill="none" stroke="#4a5ae8" stroke-width="0.8"/>
<path d="M134.90,468.63 L135.25,468.47 L135.60,468.24 L135.95,467.92 L136.30,467.51 L136.65,466.98 L137.00,466.33 L137.35,465.59 L137.70,464.77 L138.05,463.93 L138.40,463.11 L138.75,462.38 L139.10,461.80 L139.45,461.43 L139.80,461.30 L140.15,461.43 L140.50,461.80 L140.85,462.38 L141.20,463.11 L141.55,463.93 L141.90,464.77 L142.25,465.59 L142.60,466.33 L142.95,466.98 L143.30,467.51 L143.65,467.92 L144.00,468.24 L144.35,468.47 L144.70,468.63" fill="none" stroke="#60b060" stroke-width="0.8"/>
<path d="M141.00,468.48 L141.35,468.24 L141.70,467.89 L142.05,467.41 L142.40,466.77 L142.75,465.97 L143.10,464.98 L143.45,463.85 L143.80,462.60 L144.15,461.31 L144.50,460.06 L144.85,458.94 L145.20,458.06 L145.55,457.50 L145.90,457.30 L146.25,457.50 L146.60,458.06 L146.95,458.94 L147.30,460.06 L147.65,461.31 L148.00,462.60 L148.35,463.85 L148.70,464.98 L149.05,465.97 L149.40,466.77 L149.75,467.41 L150.10,467.89 L150.45,468.24 L150.80,468.48" fill="none" stroke="#4a5ae8" stroke-width="0.8"/>
<path d="M147.30,468.59 L147.65,468.41 L148.00,468.15 L148.35,467.80 L148.70,467.32 L149.05,466.72 L149.40,466.00 L149.75,465.16 L150.10,464.23 L150.45,463.27 L150.80,462.34 L151.15,461.52 L151.50,460.86 L151.85,460.44 L152.20,460.30 L152.55,460.44 L152.90,460.86 L153.25,461.52 L153.60,462.34 L153.95,463.27 L154.30,464.23 L154.65,465.16 L155.00,466.00 L155.35,466.72 L155.70,467.32 L156.05,467.80 L156.40,468.15 L156.75,468.41 L157.10,468.59" fill="none" stroke="#60b060" stroke-width="0.8"/>
<path d="M154.00,468.62 L154.35,468.46 L154.70,468.22 L155.05,467.90 L155.40,467.47 L155.75,466.93 L156.10,466.27 L156.45,465.50 L156.80,464.67 L157.15,463.80 L157.50,462.95 L157.85,462.20 L158.20,461.61 L158.55,461.23 L158.90,461.10 L159.25,461.23 L159.60,461.61 L159.95,462.20 L160.30,462.95 L160.65,463.80 L161.00,464.67 L161.35,465.50 L161.70,466.27 L162.05,466.93 L162.40,467.47 L162.75,467.90 L163.10,468.22 L163.45,468.46 L163.80,468.62" fill="none" stroke="#505050" stroke-width="0.8"/>
<rect x="97.6" y="472.4" width="7.12" height="8.9" fill="#1f3ef0"/>
<rect x="104.12" y="472.4" width="7.12" height="8.9" fill="#e8341c"/>
<rect x="110.64" y="472.4" width="7.12" height="8.9" fill="#e8341c"/>
<rect x="117.16" y="472.4" width="7.12" height="8.9" fill="#e8341c"/>
<rect x="123.68" y="472.4" width="7.12" height="8.9" fill="#fff"/>
<rect x="130.2" y="472.4" width="7.12" height="8.9" fill="#1f3ef0"/>
<rect x="136.72" y="472.4" width="7.12" height="8.9" fill="#3c8c2c"/>
<rect x="143.24" y="472.4" width="7.12" height="8.9" fill="#1f3ef0"/>
<rect x="149.76" y="472.4" width="7.12" height="8.9" fill="#3c8c2c"/>
<rect x="156.28" y="472.4" width="6.52" height="8.9" fill="#101010"/>
<rect x="97.6" y="480.7" width="7.12" height="8.2" fill="#1f3ef0"/>
<rect x="104.12" y="480.7" width="7.12" height="8.2" fill="#e8341c"/>
<rect x="110.64" y="480.7" width="7.12" height="8.2" fill="#e8341c"/>
<rect x="117.16" y="480.7" width="7.12" height="8.2" fill="#e8341c"/>
<rect x="123.68" y="480.7" width="7.12" height="8.2" fill="#fff"/>
<rect x="130.2" y="480.7" width="7.12" height="8.2" fill="#1f3ef0"/>
<rect x="136.72" y="480.7" width="7.12" height="8.2" fill="#3c8c2c"/>
<rect x="143.24" y="480.7" width="7.12" height="8.2" fill="#1f3ef0"/>
<rect x="149.76" y="480.7" width="7.12" height="8.2" fill="#3c8c2c"/>
<rect x="156.28" y="480.7" width="6.52" height="8.2" fill="#101010"/>
<text x="100.86" y="479.8" font-family="Liberation Serif" font-size="8.3" fill="#0a1478" text-anchor="middle" font-weight="bold" textLength="5.7" lengthAdjust="spacingAndGlyphs">C</text>
<text x="107.38" y="479.8" font-family="Liberation Serif" font-size="8.3" fill="#4a0800" text-anchor="middle" font-weight="bold" textLength="5.7" lengthAdjust="spacingAndGlyphs">T</text>
<text x="113.9" y="479.8" font-family="Liberation Serif" font-size="8.3" fill="#4a0800" text-anchor="middle" font-weight="bold" textLength="5.7" lengthAdjust="spacingAndGlyphs">T</text>
<text x="120.42" y="479.8" font-family="Liberation Serif" font-size="8.3" fill="#4a0800" text-anchor="middle" font-weight="bold" textLength="5.7" lengthAdjust="spacingAndGlyphs">T</text>
<text x="126.94" y="479.8" font-family="Liberation Serif" font-size="8.3" fill="#70b860" text-anchor="middle" font-weight="bold" textLength="5.7" lengthAdjust="spacingAndGlyphs">A</text>
<text x="133.46" y="479.8" font-family="Liberation Serif" font-size="8.3" fill="#0a1478" text-anchor="middle" font-weight="bold" textLength="5.7" lengthAdjust="spacingAndGlyphs">C</text>
<text x="139.98" y="479.8" font-family="Liberation Serif" font-size="8.3" fill="#b8dcb0" text-anchor="middle" font-weight="bold" textLength="5.7" lengthAdjust="spacingAndGlyphs">A</text>
<text x="146.5" y="479.8" font-family="Liberation Serif" font-size="8.3" fill="#0a1478" text-anchor="middle" font-weight="bold" textLength="5.7" lengthAdjust="spacingAndGlyphs">C</text>
<text x="153.02" y="479.8" font-family="Liberation Serif" font-size="8.3" fill="#b8dcb0" text-anchor="middle" font-weight="bold" textLength="5.7" lengthAdjust="spacingAndGlyphs">A</text>
<text x="159.54" y="479.8" font-family="Liberation Serif" font-size="8.3" fill="#bcbcbc" text-anchor="middle" font-weight="bold" textLength="5.7" lengthAdjust="spacingAndGlyphs">G</text>
<text x="100.86" y="488.1" font-family="Liberation Serif" font-size="8.3" fill="#0a1478" text-anchor="middle" font-weight="bold" textLength="5.7" lengthAdjust="spacingAndGlyphs">C</text>
<text x="107.38" y="488.1" font-family="Liberation Serif" font-size="8.3" fill="#4a0800" text-anchor="middle" font-weight="bold" textLength="5.7" lengthAdjust="spacingAndGlyphs">T</text>
<text x="113.9" y="488.1" font-family="Liberation Serif" font-size="8.3" fill="#4a0800" text-anchor="middle" font-weight="bold" textLength="5.7" lengthAdjust="spacingAndGlyphs">T</text>
<text x="120.42" y="488.1" font-family="Liberation Serif" font-size="8.3" fill="#4a0800" text-anchor="middle" font-weight="bold" textLength="5.7" lengthAdjust="spacingAndGlyphs">T</text>
<text x="126.94" y="488.1" font-family="Liberation Serif" font-size="8.3" fill="#5060f0" text-anchor="middle" font-weight="bold" textLength="5.7" lengthAdjust="spacingAndGlyphs">C</text>
<text x="133.46" y="488.1" font-family="Liberation Serif" font-size="8.3" fill="#0a1478" text-anchor="middle" font-weight="bold" textLength="5.7" lengthAdjust="spacingAndGlyphs">C</text>
<text x="139.98" y="488.1" font-family="Liberation Serif" font-size="8.3" fill="#b8dcb0" text-anchor="middle" font-weight="bold" textLength="5.7" lengthAdjust="spacingAndGlyphs">A</text>
<text x="146.5" y="488.1" font-family="Liberation Serif" font-size="8.3" fill="#0a1478" text-anchor="middle" font-weight="bold" textLength="5.7" lengthAdjust="spacingAndGlyphs">C</text>
<text x="153.02" y="488.1" font-family="Liberation Serif" font-size="8.3" fill="#b8dcb0" text-anchor="middle" font-weight="bold" textLength="5.7" lengthAdjust="spacingAndGlyphs">A</text>
<text x="159.54" y="488.1" font-family="Liberation Serif" font-size="8.3" fill="#bcbcbc" text-anchor="middle" font-weight="bold" textLength="5.7" lengthAdjust="spacingAndGlyphs">G</text>
<line x1="97.3" y1="423.3" x2="97.3" y2="489.4" stroke="#111" stroke-width="1.2"/>
<line x1="163.1" y1="423.3" x2="163.1" y2="489.4" stroke="#111" stroke-width="1.2"/>
<line x1="96.7" y1="489.2" x2="163.7" y2="489.2" stroke="#111" stroke-width="1.0"/>
<text x="204.8" y="403.2" font-family="Liberation Sans" font-size="10" fill="#000" text-anchor="middle" font-weight="bold">c.73A&gt;G</text>
<text x="204.8" y="415.4" font-family="Liberation Sans" font-size="10" fill="#000" text-anchor="middle" font-weight="bold" textLength="64" lengthAdjust="spacingAndGlyphs">(p.Phe25Leu)</text>
<text x="175.61" y="430.4" font-family="Liberation Serif" font-size="5" fill="#d84040" text-anchor="middle">T</text>
<text x="182.22" y="430.4" font-family="Liberation Serif" font-size="5" fill="#707070" text-anchor="middle">G</text>
<text x="188.83" y="430.4" font-family="Liberation Serif" font-size="5" fill="#40a040" text-anchor="middle">A</text>
<text x="195.44" y="430.4" font-family="Liberation Serif" font-size="5" fill="#707070" text-anchor="middle">G</text>
<text x="202.05" y="430.4" font-family="Liberation Serif" font-size="5" fill="#707070" text-anchor="middle">G</text>
<text x="208.66" y="430.4" font-family="Liberation Serif" font-size="5" fill="#40a040" text-anchor="middle">A</text>
<text x="215.27" y="430.4" font-family="Liberation Serif" font-size="5" fill="#3040e0" text-anchor="middle">C</text>
<text x="221.88" y="430.4" font-family="Liberation Serif" font-size="5" fill="#d84040" text-anchor="middle">T</text>
<text x="228.49" y="430.4" font-family="Liberation Serif" font-size="5" fill="#40a040" text-anchor="middle">A</text>
<text x="235.09" y="430.4" font-family="Liberation Serif" font-size="5" fill="#d84040" text-anchor="middle">T</text>
<line x1="182.4" y1="432.7" x2="195.6" y2="432.7" stroke="#222" stroke-width="1.0"/>
<line x1="195.6" y1="437" x2="195.6" y2="444" stroke="#111" stroke-width="1.0"/>
<path d="M193.8,442.6 L195.6,446 L197.4,442.6 Z" fill="#111"/>
<line x1="172.4" y1="469" x2="237.7" y2="469" stroke="#7c84e6" stroke-width="0.8"/>
<path d="M172.5,468.9 L173.8,468.6 L175.1,468.1 L176.4,468.7 L177.7,469.1 L179.0,468.4 L180.3,468.2 L181.6,468.9 L182.9,468.9 L184.2,468.2 L185.5,468.4 L186.8,469.1 L188.1,468.7 L189.4,468.1 L190.7,468.7 L192.0,469.1 L193.3,468.4 L194.6,468.2 L195.9,468.9 L197.2,469.0 L198.5,468.2 L199.8,468.3 L201.1,469.1 L202.4,468.7 L203.7,468.1 L205.0,468.6 L206.3,469.1 L207.6,468.5 L208.9,468.1 L210.2,468.8 L211.5,469.0 L212.8,468.3 L214.1,468.3 L215.4,469.0 L216.7,468.8 L218.0,468.1 L219.3,468.5 L220.6,469.1 L221.9,468.6 L223.2,468.1 L224.5,468.8 L225.8,469.0 L227.1,468.3 L228.4,468.2 L229.7,469.0 L231.0,468.9 L232.3,468.2 L233.6,468.4 L234.9,469.1 L236.2,468.6 L237.5,468.1 L238.8,468.7" fill="none" stroke="#70c070" stroke-width="0.4" opacity="0.45"/>
<path d="M172.5,468.9 L173.8,468.2 L175.1,468.9 L176.4,469.0 L177.7,468.2 L179.0,468.3 L180.3,469.1 L181.6,468.7 L182.9,468.1 L184.2,468.6 L185.5,469.1 L186.8,468.5 L188.1,468.1 L189.4,468.8 L190.7,469.0 L192.0,468.3 L193.3,468.3 L194.6,469.0 L195.9,468.8 L197.2,468.1 L198.5,468.5 L199.8,469.1 L201.1,468.5 L202.4,468.1 L203.7,468.8 L205.0,469.0 L206.3,468.3 L207.6,468.2 L208.9,469.0 L210.2,468.9 L211.5,468.1 L212.8,468.4 L214.1,469.1 L215.4,468.6 L216.7,468.1 L218.0,468.7 L219.3,469.1 L220.6,468.4 L221.9,468.2 L223.2,468.9 L224.5,468.9 L225.8,468.2 L227.1,468.4 L228.4,469.1 L229.7,468.7 L231.0,468.1 L232.3,468.6 L233.6,469.1 L234.9,468.4 L236.2,468.1 L237.5,468.9 L238.8,469.0" fill="none" stroke="#e07070" stroke-width="0.4" opacity="0.45"/>
<path d="M172.5,468.9 L173.8,469.0 L175.1,468.8 L176.4,468.1 L177.7,468.5 L179.0,469.1 L180.3,468.5 L181.6,468.1 L182.9,468.8 L184.2,469.0 L185.5,468.3 L186.8,468.2 L188.1,469.0 L189.4,468.9 L190.7,468.1 L192.0,468.5 L193.3,469.1 L194.6,468.6 L195.9,468.1 L197.2,468.7 L198.5,469.1 L199.8,468.4 L201.1,468.2 L202.4,468.9 L203.7,468.9 L205.0,468.2 L206.3,468.4 L207.6,469.1 L208.9,468.7 L210.2,468.1 L211.5,468.6 L212.8,469.1 L214.1,468.4 L215.4,468.2 L216.7,468.9 L218.0,469.0 L219.3,468.2 L220.6,468.3 L221.9,469.1 L223.2,468.8 L224.5,468.1 L225.8,468.6 L227.1,469.1 L228.4,468.5 L229.7,468.1 L231.0,468.8 L232.3,469.0 L233.6,468.3 L234.9,468.3 L236.2,469.0 L237.5,468.8 L238.8,468.1" fill="none" stroke="#606060" stroke-width="0.4" opacity="0.45"/>
<path d="M171.10,468.36 L171.45,468.05 L171.80,467.61 L172.15,466.99 L172.50,466.17 L172.85,465.13 L173.20,463.87 L173.55,462.41 L173.90,460.81 L174.25,459.15 L174.60,457.54 L174.95,456.11 L175.30,454.98 L175.65,454.25 L176.00,454.00 L176.35,454.25 L176.70,454.98 L177.05,456.11 L177.40,457.54 L177.75,459.15 L178.10,460.81 L178.45,462.41 L178.80,463.87 L179.15,465.13 L179.50,466.17 L179.85,466.99 L180.20,467.61 L180.55,468.05 L180.90,468.36" fill="none" stroke="#e06060" stroke-width="0.8"/>
<path d="M178.60,468.22 L178.95,467.82 L179.30,467.25 L179.65,466.46 L180.00,465.42 L180.35,464.09 L180.70,462.49 L181.05,460.63 L181.40,458.58 L181.75,456.47 L182.10,454.42 L182.45,452.59 L182.80,451.15 L183.15,450.22 L183.50,449.90 L183.85,450.22 L184.20,451.15 L184.55,452.59 L184.90,454.42 L185.25,456.47 L185.60,458.58 L185.95,460.63 L186.30,462.49 L186.65,464.09 L187.00,465.42 L187.35,466.46 L187.70,467.25 L188.05,467.82 L188.40,468.22" fill="none" stroke="#505050" stroke-width="0.8"/>
<path d="M185.30,467.98 L185.65,467.44 L186.00,466.67 L186.35,465.60 L186.70,464.19 L187.05,462.40 L187.40,460.22 L187.75,457.71 L188.10,454.95 L188.45,452.08 L188.80,449.31 L189.15,446.84 L189.50,444.89 L189.85,443.63 L190.20,443.20 L190.55,443.63 L190.90,444.89 L191.25,446.84 L191.60,449.31 L191.95,452.08 L192.30,454.95 L192.65,457.71 L193.00,460.22 L193.35,462.40 L193.70,464.19 L194.05,465.60 L194.40,466.67 L194.75,467.44 L195.10,467.98" fill="none" stroke="#60b060" stroke-width="0.8"/>
<path d="M191.30,468.59 L191.65,468.41 L192.00,468.15 L192.35,467.80 L192.70,467.32 L193.05,466.72 L193.40,466.00 L193.75,465.16 L194.10,464.23 L194.45,463.27 L194.80,462.34 L195.15,461.52 L195.50,460.86 L195.85,460.44 L196.20,460.30 L196.55,460.44 L196.90,460.86 L197.25,461.52 L197.60,462.34 L197.95,463.27 L198.30,464.23 L198.65,465.16 L199.00,466.00 L199.35,466.72 L199.70,467.32 L200.05,467.80 L200.40,468.15 L200.75,468.41 L201.10,468.59" fill="none" stroke="#505050" stroke-width="0.8"/>
<path d="M198.50,468.22 L198.85,467.82 L199.20,467.25 L199.55,466.46 L199.90,465.42 L200.25,464.09 L200.60,462.49 L200.95,460.63 L201.30,458.58 L201.65,456.47 L202.00,454.42 L202.35,452.59 L202.70,451.15 L203.05,450.22 L203.40,449.90 L203.75,450.22 L204.10,451.15 L204.45,452.59 L204.80,454.42 L205.15,456.47 L205.50,458.58 L205.85,460.63 L206.20,462.49 L206.55,464.09 L206.90,465.42 L207.25,466.46 L207.60,467.25 L207.95,467.82 L208.30,468.22" fill="none" stroke="#505050" stroke-width="0.8"/>
<path d="M205.20,468.00 L205.55,467.47 L205.90,466.72 L206.25,465.68 L206.60,464.30 L206.95,462.55 L207.30,460.43 L207.65,457.97 L208.00,455.27 L208.35,452.48 L208.70,449.77 L209.05,447.35 L209.40,445.45 L209.75,444.22 L210.10,443.80 L210.45,444.22 L210.80,445.45 L211.15,447.35 L211.50,449.77 L211.85,452.48 L212.20,455.27 L212.55,457.97 L212.90,460.43 L213.25,462.55 L213.60,464.30 L213.95,465.68 L214.30,466.72 L214.65,467.47 L215.00,468.00" fill="none" stroke="#60b060" stroke-width="0.8"/>
<path d="M210.90,468.36 L211.25,468.05 L211.60,467.61 L211.95,466.99 L212.30,466.17 L212.65,465.13 L213.00,463.87 L213.35,462.41 L213.70,460.81 L214.05,459.15 L214.40,457.54 L214.75,456.11 L215.10,454.98 L215.45,454.25 L215.80,454.00 L216.15,454.25 L216.50,454.98 L216.85,456.11 L217.20,457.54 L217.55,459.15 L217.90,460.81 L218.25,462.41 L218.60,463.87 L218.95,465.13 L219.30,466.17 L219.65,466.99 L220.00,467.61 L220.35,468.05 L220.70,468.36" fill="none" stroke="#4a5ae8" stroke-width="0.8"/>
<path d="M217.30,468.36 L217.65,468.05 L218.00,467.61 L218.35,466.99 L218.70,466.17 L219.05,465.13 L219.40,463.87 L219.75,462.41 L220.10,460.81 L220.45,459.15 L220.80,457.54 L221.15,456.11 L221.50,454.98 L221.85,454.25 L222.20,454.00 L222.55,454.25 L222.90,454.98 L223.25,456.11 L223.60,457.54 L223.95,459.15 L224.30,460.81 L224.65,462.41 L225.00,463.87 L225.35,465.13 L225.70,466.17 L226.05,466.99 L226.40,467.61 L226.75,468.05 L227.10,468.36" fill="none" stroke="#e06060" stroke-width="0.8"/>
<path d="M223.70,468.23 L224.05,467.84 L224.40,467.28 L224.75,466.51 L225.10,465.49 L225.45,464.19 L225.80,462.62 L226.15,460.80 L226.50,458.80 L226.85,456.73 L227.20,454.72 L227.55,452.93 L227.90,451.52 L228.25,450.61 L228.60,450.30 L228.95,450.61 L229.30,451.52 L229.65,452.93 L230.00,454.72 L230.35,456.73 L230.70,458.80 L231.05,460.80 L231.40,462.62 L231.75,464.19 L232.10,465.49 L232.45,466.51 L232.80,467.28 L233.15,467.84 L233.50,468.23" fill="none" stroke="#60b060" stroke-width="0.8"/>
<path d="M230.00,468.36 L230.35,468.05 L230.70,467.61 L231.05,466.99 L231.40,466.17 L231.75,465.13 L232.10,463.87 L232.45,462.41 L232.80,460.81 L233.15,459.15 L233.50,457.54 L233.85,456.11 L234.20,454.98 L234.55,454.25 L234.90,454.00 L235.25,454.25 L235.60,454.98 L235.95,456.11 L236.30,457.54 L236.65,459.15 L237.00,460.81 L237.35,462.41 L237.70,463.87 L238.05,465.13 L238.40,466.17 L238.75,466.99 L239.10,467.61 L239.45,468.05 L239.80,468.36" fill="none" stroke="#e06060" stroke-width="0.8"/>
<rect x="172" y="472.4" width="7.21" height="8.9" fill="#e8341c"/>
<rect x="178.61" y="472.4" width="7.21" height="8.9" fill="#101010"/>
<rect x="185.22" y="472.4" width="7.21" height="8.9" fill="#3c8c2c"/>
<rect x="191.83" y="472.4" width="7.21" height="8.9" fill="#fff"/>
<rect x="198.44" y="472.4" width="7.21" height="8.9" fill="#101010"/>
<rect x="205.05" y="472.4" width="7.21" height="8.9" fill="#3c8c2c"/>
<rect x="211.66" y="472.4" width="7.21" height="8.9" fill="#1f3ef0"/>
<rect x="218.27" y="472.4" width="7.21" height="8.9" fill="#e8341c"/>
<rect x="224.88" y="472.4" width="7.21" height="8.9" fill="#3c8c2c"/>
<rect x="231.49" y="472.4" width="6.61" height="8.9" fill="#e8341c"/>
<rect x="172" y="480.7" width="7.21" height="8.2" fill="#e8341c"/>
<rect x="178.61" y="480.7" width="7.21" height="8.2" fill="#101010"/>
<rect x="185.22" y="480.7" width="7.21" height="8.2" fill="#3c8c2c"/>
<rect x="191.83" y="480.7" width="7.21" height="8.2" fill="#fff"/>
<rect x="198.44" y="480.7" width="7.21" height="8.2" fill="#101010"/>
<rect x="205.05" y="480.7" width="7.21" height="8.2" fill="#3c8c2c"/>
<rect x="211.66" y="480.7" width="7.21" height="8.2" fill="#1f3ef0"/>
<rect x="218.27" y="480.7" width="7.21" height="8.2" fill="#e8341c"/>
<rect x="224.88" y="480.7" width="7.21" height="8.2" fill="#3c8c2c"/>
<rect x="231.49" y="480.7" width="6.61" height="8.2" fill="#e8341c"/>
<text x="175.31" y="479.8" font-family="Liberation Serif" font-size="8.3" fill="#4a0800" text-anchor="middle" font-weight="bold" textLength="5.7" lengthAdjust="spacingAndGlyphs">T</text>
<text x="181.92" y="479.8" font-family="Liberation Serif" font-size="8.3" fill="#bcbcbc" text-anchor="middle" font-weight="bold" textLength="5.7" lengthAdjust="spacingAndGlyphs">G</text>
<text x="188.53" y="479.8" font-family="Liberation Serif" font-size="8.3" fill="#b8dcb0" text-anchor="middle" font-weight="bold" textLength="5.7" lengthAdjust="spacingAndGlyphs">A</text>
<text x="195.13" y="479.8" font-family="Liberation Serif" font-size="8.3" fill="#707070" text-anchor="middle" font-weight="bold" textLength="5.7" lengthAdjust="spacingAndGlyphs">G</text>
<text x="201.75" y="479.8" font-family="Liberation Serif" font-size="8.3" fill="#bcbcbc" text-anchor="middle" font-weight="bold" textLength="5.7" lengthAdjust="spacingAndGlyphs">G</text>
<text x="208.36" y="479.8" font-family="Liberation Serif" font-size="8.3" fill="#b8dcb0" text-anchor="middle" font-weight="bold" textLength="5.7" lengthAdjust="spacingAndGlyphs">A</text>
<text x="214.97" y="479.8" font-family="Liberation Serif" font-size="8.3" fill="#0a1478" text-anchor="middle" font-weight="bold" textLength="5.7" lengthAdjust="spacingAndGlyphs">C</text>
<text x="221.57" y="479.8" font-family="Liberation Serif" font-size="8.3" fill="#4a0800" text-anchor="middle" font-weight="bold" textLength="5.7" lengthAdjust="spacingAndGlyphs">T</text>
<text x="228.19" y="479.8" font-family="Liberation Serif" font-size="8.3" fill="#b8dcb0" text-anchor="middle" font-weight="bold" textLength="5.7" lengthAdjust="spacingAndGlyphs">A</text>
<text x="234.8" y="479.8" font-family="Liberation Serif" font-size="8.3" fill="#4a0800" text-anchor="middle" font-weight="bold" textLength="5.7" lengthAdjust="spacingAndGlyphs">T</text>
<text x="175.31" y="488.1" font-family="Liberation Serif" font-size="8.3" fill="#4a0800" text-anchor="middle" font-weight="bold" textLength="5.7" lengthAdjust="spacingAndGlyphs">T</text>
<text x="181.92" y="488.1" font-family="Liberation Serif" font-size="8.3" fill="#bcbcbc" text-anchor="middle" font-weight="bold" textLength="5.7" lengthAdjust="spacingAndGlyphs">G</text>
<text x="188.53" y="488.1" font-family="Liberation Serif" font-size="8.3" fill="#b8dcb0" text-anchor="middle" font-weight="bold" textLength="5.7" lengthAdjust="spacingAndGlyphs">A</text>
<text x="195.13" y="488.1" font-family="Liberation Serif" font-size="8.3" fill="#70b860" text-anchor="middle" font-weight="bold" textLength="5.7" lengthAdjust="spacingAndGlyphs">A</text>
<text x="201.75" y="488.1" font-family="Liberation Serif" font-size="8.3" fill="#bcbcbc" text-anchor="middle" font-weight="bold" textLength="5.7" lengthAdjust="spacingAndGlyphs">G</text>
<text x="208.36" y="488.1" font-family="Liberation Serif" font-size="8.3" fill="#b8dcb0" text-anchor="middle" font-weight="bold" textLength="5.7" lengthAdjust="spacingAndGlyphs">A</text>
<text x="214.97" y="488.1" font-family="Liberation Serif" font-size="8.3" fill="#0a1478" text-anchor="middle" font-weight="bold" textLength="5.7" lengthAdjust="spacingAndGlyphs">C</text>
<text x="221.57" y="488.1" font-family="Liberation Serif" font-size="8.3" fill="#4a0800" text-anchor="middle" font-weight="bold" textLength="5.7" lengthAdjust="spacingAndGlyphs">T</text>
<text x="228.19" y="488.1" font-family="Liberation Serif" font-size="8.3" fill="#b8dcb0" text-anchor="middle" font-weight="bold" textLength="5.7" lengthAdjust="spacingAndGlyphs">A</text>
<text x="234.8" y="488.1" font-family="Liberation Serif" font-size="8.3" fill="#4a0800" text-anchor="middle" font-weight="bold" textLength="5.7" lengthAdjust="spacingAndGlyphs">T</text>
<line x1="171.7" y1="423.3" x2="171.7" y2="489.4" stroke="#111" stroke-width="1.2"/>
<line x1="238.4" y1="423.3" x2="238.4" y2="489.4" stroke="#111" stroke-width="1.2"/>
<line x1="171.1" y1="489.2" x2="239" y2="489.2" stroke="#111" stroke-width="1.0"/>
<text x="241.3" y="479.6" font-family="Liberation Sans" font-size="8.3" fill="#111">Mut</text>
<text x="241.4" y="488.1" font-family="Liberation Sans" font-size="8.4" fill="#111">WT</text>
<rect x="0.7" y="0.7" width="518.6" height="496.6" fill="none" stroke="#000" stroke-width="1.45"/>
</svg>
</body></html>
